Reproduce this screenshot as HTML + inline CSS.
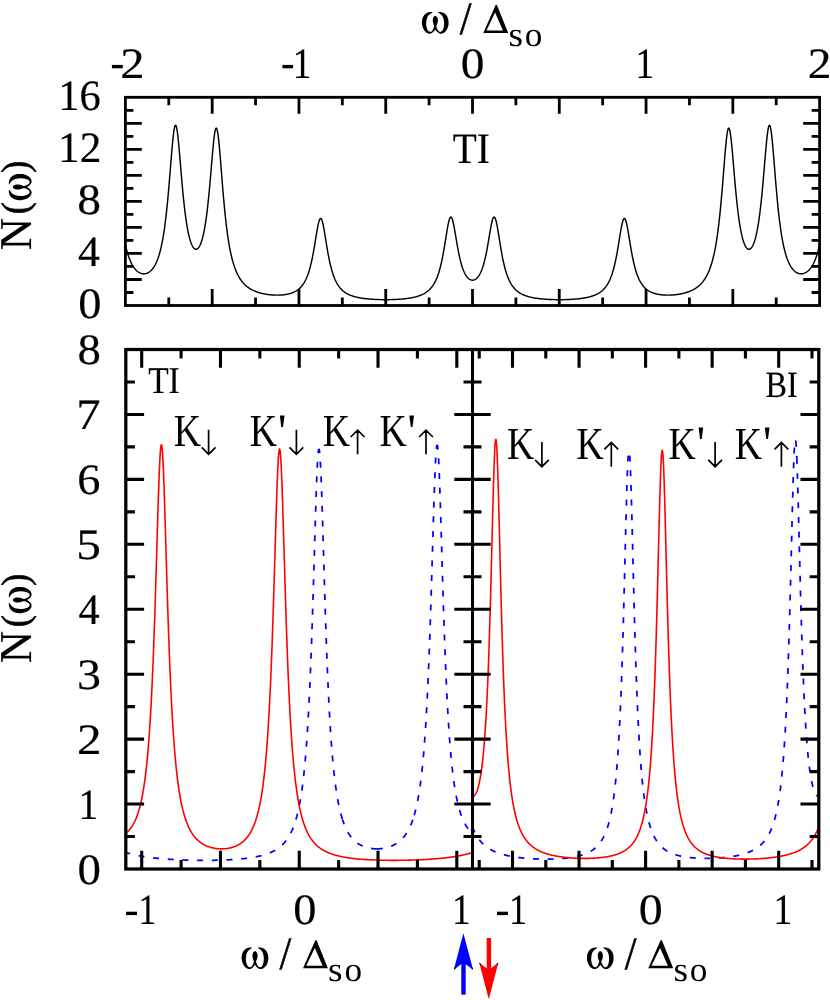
<!DOCTYPE html>
<html><head><meta charset="utf-8"><title>N(ω)</title>
<style>html,body{margin:0;padding:0;background:#fff}body{width:830px;height:1000px;overflow:hidden;font-family:"Liberation Serif",serif}svg{display:block}</style>
</head><body>
<svg width="830" height="1000" viewBox="0 0 830 1000" font-family="Liberation Serif" fill="#000">
<rect width="830" height="1000" fill="#fff"/>
<defs>
<clipPath id="c1"><rect x="125.4" y="97.3" width="694.2" height="208.2"/></clipPath>
<clipPath id="c2"><rect x="125.8" y="349.5" width="346.7" height="519.5"/></clipPath>
<clipPath id="c3"><rect x="472.5" y="349.5" width="346.29999999999995" height="519.5"/></clipPath>
</defs>
<path clip-path="url(#c1)" d="M121.93,224.60 L122.43,228.13 L122.93,231.43 L123.43,234.51 L123.93,237.39 L124.43,240.07 L124.94,242.57 L125.44,244.91 L125.94,247.09 L126.44,249.12 L126.94,251.03 L127.44,252.80 L127.94,254.46 L128.44,256.01 L128.95,257.45 L129.45,258.80 L129.95,260.07 L130.45,261.25 L130.95,262.35 L131.45,263.38 L131.95,264.34 L132.45,265.24 L132.95,266.08 L133.46,266.86 L133.96,267.59 L134.46,268.26 L134.96,268.89 L135.46,269.47 L135.96,270.01 L136.46,270.51 L136.96,270.97 L137.47,271.39 L137.97,271.77 L138.47,272.11 L138.97,272.43 L139.47,272.71 L139.97,272.95 L140.47,273.17 L140.97,273.35 L141.47,273.50 L141.98,273.63 L142.48,273.72 L142.98,273.78 L143.48,273.82 L143.98,273.82 L144.48,273.80 L144.98,273.75 L145.48,273.66 L145.99,273.55 L146.49,273.40 L146.99,273.23 L147.49,273.02 L147.99,272.78 L148.49,272.50 L148.99,272.19 L149.49,271.84 L149.99,271.46 L150.50,271.03 L151.00,270.57 L151.50,270.06 L152.00,269.50 L152.50,268.90 L153.00,268.25 L153.50,267.54 L154.00,266.78 L154.51,265.96 L155.01,265.07 L155.51,264.12 L156.01,263.10 L156.51,262.00 L157.01,260.81 L157.51,259.54 L158.01,258.18 L158.51,256.71 L159.02,255.13 L159.52,253.44 L160.02,251.63 L160.52,249.68 L161.02,247.58 L161.52,245.33 L162.02,242.91 L162.52,240.32 L163.03,237.53 L163.53,234.54 L164.03,231.33 L164.53,227.89 L165.03,224.21 L165.53,220.27 L166.03,216.06 L166.53,211.58 L167.03,206.82 L167.54,201.77 L168.04,196.46 L168.54,190.88 L169.04,185.07 L169.54,179.06 L170.04,172.90 L170.54,166.66 L171.04,160.42 L171.55,154.30 L172.05,148.41 L172.55,142.88 L173.05,137.87 L173.55,133.52 L174.05,129.97 L174.55,127.35 L175.05,125.74 L175.55,125.21 L176.06,125.78 L176.56,127.41 L177.06,130.04 L177.56,133.57 L178.06,137.87 L178.56,142.80 L179.06,148.20 L179.56,153.94 L180.07,159.88 L180.57,165.90 L181.07,171.90 L181.57,177.80 L182.07,183.54 L182.57,189.05 L183.07,194.32 L183.57,199.32 L184.07,204.03 L184.58,208.45 L185.08,212.58 L185.58,216.43 L186.08,219.99 L186.58,223.30 L187.08,226.34 L187.58,229.15 L188.08,231.72 L188.59,234.07 L189.09,236.22 L189.59,238.17 L190.09,239.94 L190.59,241.52 L191.09,242.94 L191.59,244.20 L192.09,245.31 L192.59,246.28 L193.10,247.10 L193.60,247.78 L194.10,248.34 L194.60,248.76 L195.10,249.06 L195.60,249.23 L196.10,249.28 L196.60,249.21 L197.11,249.01 L197.61,248.68 L198.11,248.22 L198.61,247.64 L199.11,246.92 L199.61,246.06 L200.11,245.05 L200.61,243.90 L201.11,242.58 L201.62,241.11 L202.12,239.45 L202.62,237.62 L203.12,235.59 L203.62,233.36 L204.12,230.91 L204.62,228.24 L205.12,225.33 L205.63,222.16 L206.13,218.73 L206.63,215.03 L207.13,211.04 L207.63,206.77 L208.13,202.20 L208.63,197.35 L209.13,192.23 L209.63,186.84 L210.14,181.24 L210.64,175.45 L211.14,169.54 L211.64,163.59 L212.14,157.69 L212.64,151.96 L213.14,146.53 L213.64,141.54 L214.14,137.14 L214.65,133.47 L215.15,130.67 L215.65,128.84 L216.15,128.07 L216.65,128.39 L217.15,129.80 L217.65,132.25 L218.15,135.65 L218.66,139.88 L219.16,144.82 L219.66,150.31 L220.16,156.21 L220.66,162.38 L221.16,168.69 L221.66,175.03 L222.16,181.32 L222.66,187.47 L223.17,193.44 L223.67,199.19 L224.17,204.68 L224.67,209.90 L225.17,214.84 L225.67,219.51 L226.17,223.90 L226.67,228.02 L227.18,231.88 L227.68,235.51 L228.18,238.89 L228.68,242.06 L229.18,245.03 L229.68,247.80 L230.18,250.40 L230.68,252.82 L231.18,255.09 L231.69,257.22 L232.19,259.21 L232.69,261.08 L233.19,262.84 L233.69,264.48 L234.19,266.03 L234.69,267.49 L235.19,268.86 L235.70,270.15 L236.20,271.37 L236.70,272.52 L237.20,273.60 L237.70,274.63 L238.20,275.60 L238.70,276.51 L239.20,277.38 L239.70,278.21 L240.21,278.99 L240.71,279.73 L241.21,280.44 L241.71,281.11 L242.21,281.75 L242.71,282.36 L243.21,282.93 L243.71,283.49 L244.22,284.01 L244.72,284.52 L245.22,285.00 L245.72,285.45 L246.22,285.89 L246.72,286.31 L247.22,286.71 L247.72,287.10 L248.22,287.46 L248.73,287.82 L249.23,288.15 L249.73,288.48 L250.23,288.79 L250.73,289.09 L251.23,289.37 L251.73,289.65 L252.23,289.91 L252.74,290.16 L253.24,290.41 L253.74,290.64 L254.24,290.87 L254.74,291.08 L255.24,291.29 L255.74,291.49 L256.24,291.68 L256.74,291.87 L257.25,292.04 L257.75,292.21 L258.25,292.38 L258.75,292.54 L259.25,292.69 L259.75,292.83 L260.25,292.97 L260.75,293.11 L261.26,293.24 L261.76,293.36 L262.26,293.48 L262.76,293.59 L263.26,293.70 L263.76,293.81 L264.26,293.91 L264.76,294.00 L265.26,294.09 L265.77,294.18 L266.27,294.26 L266.77,294.34 L267.27,294.42 L267.77,294.49 L268.27,294.55 L268.77,294.62 L269.27,294.68 L269.78,294.73 L270.28,294.78 L270.78,294.83 L271.28,294.88 L271.78,294.92 L272.28,294.96 L272.78,294.99 L273.28,295.02 L273.78,295.05 L274.29,295.07 L274.79,295.09 L275.29,295.10 L275.79,295.12 L276.29,295.12 L276.79,295.13 L277.29,295.13 L277.79,295.13 L278.30,295.12 L278.80,295.11 L279.30,295.09 L279.80,295.07 L280.30,295.05 L280.80,295.02 L281.30,294.99 L281.80,294.95 L282.30,294.91 L282.81,294.86 L283.31,294.81 L283.81,294.76 L284.31,294.70 L284.81,294.63 L285.31,294.55 L285.81,294.48 L286.31,294.39 L286.82,294.30 L287.32,294.20 L287.82,294.10 L288.32,293.98 L288.82,293.86 L289.32,293.73 L289.82,293.60 L290.32,293.45 L290.82,293.30 L291.33,293.13 L291.83,292.96 L292.33,292.77 L292.83,292.57 L293.33,292.36 L293.83,292.14 L294.33,291.91 L294.83,291.65 L295.34,291.39 L295.84,291.11 L296.34,290.81 L296.84,290.49 L297.34,290.15 L297.84,289.79 L298.34,289.41 L298.84,289.00 L299.34,288.57 L299.85,288.11 L300.35,287.62 L300.85,287.10 L301.35,286.54 L301.85,285.95 L302.35,285.31 L302.85,284.64 L303.35,283.92 L303.86,283.15 L304.36,282.32 L304.86,281.44 L305.36,280.50 L305.86,279.48 L306.36,278.40 L306.86,277.24 L307.36,276.00 L307.86,274.66 L308.37,273.23 L308.87,271.70 L309.37,270.06 L309.87,268.30 L310.37,266.42 L310.87,264.41 L311.37,262.27 L311.87,259.99 L312.38,257.57 L312.88,255.02 L313.38,252.34 L313.88,249.53 L314.38,246.61 L314.88,243.60 L315.38,240.53 L315.88,237.44 L316.38,234.38 L316.89,231.40 L317.39,228.56 L317.89,225.93 L318.39,223.60 L318.89,221.63 L319.39,220.08 L319.89,219.02 L320.39,218.49 L320.89,218.50 L321.40,219.07 L321.90,220.16 L322.40,221.73 L322.90,223.73 L323.40,226.10 L323.90,228.75 L324.40,231.62 L324.90,234.63 L325.41,237.72 L325.91,240.84 L326.41,243.94 L326.91,246.97 L327.41,249.92 L327.91,252.76 L328.41,255.48 L328.91,258.06 L329.41,260.50 L329.92,262.81 L330.42,264.98 L330.92,267.02 L331.42,268.93 L331.92,270.72 L332.42,272.39 L332.92,273.95 L333.42,275.41 L333.93,276.78 L334.43,278.05 L334.93,279.24 L335.43,280.36 L335.93,281.40 L336.43,282.38 L336.93,283.29 L337.43,284.15 L337.93,284.95 L338.44,285.71 L338.94,286.41 L339.44,287.08 L339.94,287.71 L340.44,288.30 L340.94,288.85 L341.44,289.38 L341.94,289.87 L342.45,290.34 L342.95,290.78 L343.45,291.20 L343.95,291.59 L344.45,291.97 L344.95,292.32 L345.45,292.66 L345.95,292.98 L346.45,293.28 L346.96,293.57 L347.46,293.85 L347.96,294.11 L348.46,294.36 L348.96,294.60 L349.46,294.82 L349.96,295.04 L350.46,295.25 L350.97,295.44 L351.47,295.63 L351.97,295.81 L352.47,295.98 L352.97,296.15 L353.47,296.31 L353.97,296.46 L354.47,296.60 L354.97,296.74 L355.48,296.87 L355.98,297.00 L356.48,297.12 L356.98,297.24 L357.48,297.35 L357.98,297.46 L358.48,297.57 L358.98,297.67 L359.49,297.76 L359.99,297.85 L360.49,297.94 L360.99,298.03 L361.49,298.11 L361.99,298.19 L362.49,298.26 L362.99,298.34 L363.49,298.41 L364.00,298.47 L364.50,298.54 L365.00,298.60 L365.50,298.66 L366.00,298.72 L366.50,298.77 L367.00,298.83 L367.50,298.88 L368.01,298.92 L368.51,298.97 L369.01,299.02 L369.51,299.06 L370.01,299.10 L370.51,299.14 L371.01,299.18 L371.51,299.21 L372.01,299.25 L372.52,299.28 L373.02,299.31 L373.52,299.34 L374.02,299.37 L374.52,299.40 L375.02,299.43 L375.52,299.45 L376.02,299.47 L376.53,299.49 L377.03,299.51 L377.53,299.53 L378.03,299.55 L378.53,299.57 L379.03,299.58 L379.53,299.60 L380.03,299.61 L380.53,299.62 L381.04,299.63 L381.54,299.64 L382.04,299.65 L382.54,299.66 L383.04,299.67 L383.54,299.67 L384.04,299.67 L384.54,299.68 L385.05,299.68 L385.55,299.68 L386.05,299.68 L386.55,299.68 L387.05,299.68 L387.55,299.67 L388.05,299.67 L388.55,299.66 L389.05,299.65 L389.56,299.65 L390.06,299.64 L390.56,299.63 L391.06,299.61 L391.56,299.60 L392.06,299.59 L392.56,299.57 L393.06,299.55 L393.57,299.54 L394.07,299.52 L394.57,299.50 L395.07,299.48 L395.57,299.45 L396.07,299.43 L396.57,299.40 L397.07,299.38 L397.57,299.35 L398.08,299.32 L398.58,299.29 L399.08,299.25 L399.58,299.22 L400.08,299.18 L400.58,299.14 L401.08,299.10 L401.58,299.06 L402.09,299.02 L402.59,298.97 L403.09,298.93 L403.59,298.88 L404.09,298.83 L404.59,298.77 L405.09,298.72 L405.59,298.66 L406.09,298.60 L406.60,298.54 L407.10,298.47 L407.60,298.40 L408.10,298.33 L408.60,298.26 L409.10,298.19 L409.60,298.11 L410.10,298.02 L410.61,297.94 L411.11,297.85 L411.61,297.76 L412.11,297.66 L412.61,297.56 L413.11,297.45 L413.61,297.35 L414.11,297.23 L414.61,297.11 L415.12,296.99 L415.62,296.86 L416.12,296.73 L416.62,296.59 L417.12,296.44 L417.62,296.29 L418.12,296.14 L418.62,295.97 L419.13,295.80 L419.63,295.62 L420.13,295.43 L420.63,295.23 L421.13,295.03 L421.63,294.81 L422.13,294.58 L422.63,294.35 L423.13,294.10 L423.64,293.84 L424.14,293.57 L424.64,293.28 L425.14,292.98 L425.64,292.66 L426.14,292.33 L426.64,291.97 L427.14,291.60 L427.64,291.21 L428.15,290.80 L428.65,290.37 L429.15,289.91 L429.65,289.42 L430.15,288.90 L430.65,288.36 L431.15,287.78 L431.65,287.17 L432.16,286.52 L432.66,285.82 L433.16,285.09 L433.66,284.31 L434.16,283.47 L434.66,282.58 L435.16,281.63 L435.66,280.62 L436.16,279.54 L436.67,278.39 L437.17,277.15 L437.67,275.83 L438.17,274.42 L438.67,272.91 L439.17,271.29 L439.67,269.57 L440.17,267.72 L440.68,265.75 L441.18,263.65 L441.68,261.41 L442.18,259.04 L442.68,256.52 L443.18,253.87 L443.68,251.09 L444.18,248.18 L444.68,245.18 L445.19,242.08 L445.69,238.94 L446.19,235.79 L446.69,232.68 L447.19,229.66 L447.69,226.80 L448.19,224.18 L448.69,221.87 L449.20,219.94 L449.70,218.45 L450.20,217.46 L450.70,217.00 L451.20,217.09 L451.70,217.72 L452.20,218.86 L452.70,220.47 L453.20,222.49 L453.71,224.85 L454.21,227.48 L454.71,230.29 L455.21,233.23 L455.71,236.22 L456.21,239.23 L456.71,242.20 L457.21,245.09 L457.72,247.89 L458.22,250.57 L458.72,253.11 L459.22,255.52 L459.72,257.79 L460.22,259.91 L460.72,261.89 L461.22,263.73 L461.72,265.44 L462.23,267.03 L462.73,268.49 L463.23,269.84 L463.73,271.08 L464.23,272.22 L464.73,273.26 L465.23,274.21 L465.73,275.07 L466.24,275.86 L466.74,276.57 L467.24,277.20 L467.74,277.77 L468.24,278.27 L468.74,278.71 L469.24,279.09 L469.74,279.41 L470.24,279.67 L470.75,279.88 L471.25,280.03 L471.75,280.14 L472.25,280.19 L472.75,280.19 L473.25,280.14 L473.75,280.03 L474.25,279.88 L474.76,279.67 L475.26,279.41 L475.76,279.09 L476.26,278.71 L476.76,278.27 L477.26,277.77 L477.76,277.20 L478.26,276.57 L478.76,275.86 L479.27,275.07 L479.77,274.21 L480.27,273.26 L480.77,272.22 L481.27,271.08 L481.77,269.84 L482.27,268.49 L482.77,267.03 L483.28,265.44 L483.78,263.73 L484.28,261.89 L484.78,259.91 L485.28,257.79 L485.78,255.52 L486.28,253.11 L486.78,250.57 L487.28,247.89 L487.79,245.09 L488.29,242.20 L488.79,239.23 L489.29,236.22 L489.79,233.23 L490.29,230.29 L490.79,227.48 L491.29,224.85 L491.80,222.49 L492.30,220.47 L492.80,218.86 L493.30,217.72 L493.80,217.09 L494.30,217.00 L494.80,217.46 L495.30,218.45 L495.80,219.94 L496.31,221.87 L496.81,224.18 L497.31,226.80 L497.81,229.66 L498.31,232.68 L498.81,235.79 L499.31,238.94 L499.81,242.08 L500.32,245.18 L500.82,248.18 L501.32,251.09 L501.82,253.87 L502.32,256.52 L502.82,259.04 L503.32,261.41 L503.82,263.65 L504.32,265.75 L504.83,267.72 L505.33,269.57 L505.83,271.29 L506.33,272.91 L506.83,274.42 L507.33,275.83 L507.83,277.15 L508.33,278.39 L508.84,279.54 L509.34,280.62 L509.84,281.63 L510.34,282.58 L510.84,283.47 L511.34,284.31 L511.84,285.09 L512.34,285.82 L512.84,286.52 L513.35,287.17 L513.85,287.78 L514.35,288.36 L514.85,288.90 L515.35,289.42 L515.85,289.91 L516.35,290.37 L516.85,290.80 L517.36,291.21 L517.86,291.60 L518.36,291.97 L518.86,292.33 L519.36,292.66 L519.86,292.98 L520.36,293.28 L520.86,293.57 L521.36,293.84 L521.87,294.10 L522.37,294.35 L522.87,294.58 L523.37,294.81 L523.87,295.03 L524.37,295.23 L524.87,295.43 L525.37,295.62 L525.87,295.80 L526.38,295.97 L526.88,296.14 L527.38,296.29 L527.88,296.44 L528.38,296.59 L528.88,296.73 L529.38,296.86 L529.88,296.99 L530.39,297.11 L530.89,297.23 L531.39,297.35 L531.89,297.45 L532.39,297.56 L532.89,297.66 L533.39,297.76 L533.89,297.85 L534.39,297.94 L534.90,298.02 L535.40,298.11 L535.90,298.19 L536.40,298.26 L536.90,298.33 L537.40,298.40 L537.90,298.47 L538.40,298.54 L538.91,298.60 L539.41,298.66 L539.91,298.72 L540.41,298.77 L540.91,298.83 L541.41,298.88 L541.91,298.93 L542.41,298.97 L542.91,299.02 L543.42,299.06 L543.92,299.10 L544.42,299.14 L544.92,299.18 L545.42,299.22 L545.92,299.25 L546.42,299.29 L546.92,299.32 L547.43,299.35 L547.93,299.38 L548.43,299.40 L548.93,299.43 L549.43,299.45 L549.93,299.48 L550.43,299.50 L550.93,299.52 L551.43,299.54 L551.94,299.55 L552.44,299.57 L552.94,299.59 L553.44,299.60 L553.94,299.61 L554.44,299.63 L554.94,299.64 L555.44,299.65 L555.95,299.65 L556.45,299.66 L556.95,299.67 L557.45,299.67 L557.95,299.68 L558.45,299.68 L558.95,299.68 L559.45,299.68 L559.95,299.68 L560.46,299.68 L560.96,299.67 L561.46,299.67 L561.96,299.67 L562.46,299.66 L562.96,299.65 L563.46,299.64 L563.96,299.63 L564.47,299.62 L564.97,299.61 L565.47,299.60 L565.97,299.58 L566.47,299.57 L566.97,299.55 L567.47,299.53 L567.97,299.51 L568.47,299.49 L568.98,299.47 L569.48,299.45 L569.98,299.43 L570.48,299.40 L570.98,299.37 L571.48,299.34 L571.98,299.31 L572.48,299.28 L572.99,299.25 L573.49,299.21 L573.99,299.18 L574.49,299.14 L574.99,299.10 L575.49,299.06 L575.99,299.02 L576.49,298.97 L576.99,298.92 L577.50,298.88 L578.00,298.83 L578.50,298.77 L579.00,298.72 L579.50,298.66 L580.00,298.60 L580.50,298.54 L581.00,298.47 L581.51,298.41 L582.01,298.34 L582.51,298.26 L583.01,298.19 L583.51,298.11 L584.01,298.03 L584.51,297.94 L585.01,297.85 L585.51,297.76 L586.02,297.67 L586.52,297.57 L587.02,297.46 L587.52,297.35 L588.02,297.24 L588.52,297.12 L589.02,297.00 L589.52,296.87 L590.03,296.74 L590.53,296.60 L591.03,296.46 L591.53,296.31 L592.03,296.15 L592.53,295.98 L593.03,295.81 L593.53,295.63 L594.03,295.44 L594.54,295.25 L595.04,295.04 L595.54,294.82 L596.04,294.60 L596.54,294.36 L597.04,294.11 L597.54,293.85 L598.04,293.57 L598.55,293.28 L599.05,292.98 L599.55,292.66 L600.05,292.32 L600.55,291.97 L601.05,291.59 L601.55,291.20 L602.05,290.78 L602.55,290.34 L603.06,289.87 L603.56,289.38 L604.06,288.85 L604.56,288.30 L605.06,287.71 L605.56,287.08 L606.06,286.41 L606.56,285.71 L607.07,284.95 L607.57,284.15 L608.07,283.29 L608.57,282.38 L609.07,281.40 L609.57,280.36 L610.07,279.24 L610.57,278.05 L611.07,276.78 L611.58,275.41 L612.08,273.95 L612.58,272.39 L613.08,270.72 L613.58,268.93 L614.08,267.02 L614.58,264.98 L615.08,262.81 L615.59,260.50 L616.09,258.06 L616.59,255.48 L617.09,252.76 L617.59,249.92 L618.09,246.97 L618.59,243.94 L619.09,240.84 L619.59,237.72 L620.10,234.63 L620.60,231.62 L621.10,228.75 L621.60,226.10 L622.10,223.73 L622.60,221.73 L623.10,220.16 L623.60,219.07 L624.11,218.50 L624.61,218.49 L625.11,219.02 L625.61,220.08 L626.11,221.63 L626.61,223.60 L627.11,225.93 L627.61,228.56 L628.11,231.40 L628.62,234.38 L629.12,237.44 L629.62,240.53 L630.12,243.60 L630.62,246.61 L631.12,249.53 L631.62,252.34 L632.12,255.02 L632.62,257.57 L633.13,259.99 L633.63,262.27 L634.13,264.41 L634.63,266.42 L635.13,268.30 L635.63,270.06 L636.13,271.70 L636.63,273.23 L637.14,274.66 L637.64,276.00 L638.14,277.24 L638.64,278.40 L639.14,279.48 L639.64,280.50 L640.14,281.44 L640.64,282.32 L641.14,283.15 L641.65,283.92 L642.15,284.64 L642.65,285.31 L643.15,285.95 L643.65,286.54 L644.15,287.10 L644.65,287.62 L645.15,288.11 L645.66,288.57 L646.16,289.00 L646.66,289.41 L647.16,289.79 L647.66,290.15 L648.16,290.49 L648.66,290.81 L649.16,291.11 L649.66,291.39 L650.17,291.65 L650.67,291.91 L651.17,292.14 L651.67,292.36 L652.17,292.57 L652.67,292.77 L653.17,292.96 L653.67,293.13 L654.18,293.30 L654.68,293.45 L655.18,293.60 L655.68,293.73 L656.18,293.86 L656.68,293.98 L657.18,294.10 L657.68,294.20 L658.18,294.30 L658.69,294.39 L659.19,294.48 L659.69,294.55 L660.19,294.63 L660.69,294.70 L661.19,294.76 L661.69,294.81 L662.19,294.86 L662.70,294.91 L663.20,294.95 L663.70,294.99 L664.20,295.02 L664.70,295.05 L665.20,295.07 L665.70,295.09 L666.20,295.11 L666.70,295.12 L667.21,295.13 L667.71,295.13 L668.21,295.13 L668.71,295.12 L669.21,295.12 L669.71,295.10 L670.21,295.09 L670.71,295.07 L671.22,295.05 L671.72,295.02 L672.22,294.99 L672.72,294.96 L673.22,294.92 L673.72,294.88 L674.22,294.83 L674.72,294.78 L675.22,294.73 L675.73,294.68 L676.23,294.62 L676.73,294.55 L677.23,294.49 L677.73,294.42 L678.23,294.34 L678.73,294.26 L679.23,294.18 L679.74,294.09 L680.24,294.00 L680.74,293.91 L681.24,293.81 L681.74,293.70 L682.24,293.59 L682.74,293.48 L683.24,293.36 L683.74,293.24 L684.25,293.11 L684.75,292.97 L685.25,292.83 L685.75,292.69 L686.25,292.54 L686.75,292.38 L687.25,292.21 L687.75,292.04 L688.26,291.87 L688.76,291.68 L689.26,291.49 L689.76,291.29 L690.26,291.08 L690.76,290.87 L691.26,290.64 L691.76,290.41 L692.26,290.16 L692.77,289.91 L693.27,289.65 L693.77,289.37 L694.27,289.09 L694.77,288.79 L695.27,288.48 L695.77,288.15 L696.27,287.82 L696.78,287.46 L697.28,287.10 L697.78,286.71 L698.28,286.31 L698.78,285.89 L699.28,285.45 L699.78,285.00 L700.28,284.52 L700.78,284.01 L701.29,283.49 L701.79,282.93 L702.29,282.36 L702.79,281.75 L703.29,281.11 L703.79,280.44 L704.29,279.73 L704.79,278.99 L705.30,278.21 L705.80,277.38 L706.30,276.51 L706.80,275.60 L707.30,274.63 L707.80,273.60 L708.30,272.52 L708.80,271.37 L709.30,270.15 L709.81,268.86 L710.31,267.49 L710.81,266.03 L711.31,264.48 L711.81,262.84 L712.31,261.08 L712.81,259.21 L713.31,257.22 L713.82,255.09 L714.32,252.82 L714.82,250.40 L715.32,247.80 L715.82,245.03 L716.32,242.06 L716.82,238.89 L717.32,235.51 L717.82,231.88 L718.33,228.02 L718.83,223.90 L719.33,219.51 L719.83,214.84 L720.33,209.90 L720.83,204.68 L721.33,199.19 L721.83,193.44 L722.34,187.47 L722.84,181.32 L723.34,175.03 L723.84,168.69 L724.34,162.38 L724.84,156.21 L725.34,150.31 L725.84,144.82 L726.34,139.88 L726.85,135.65 L727.35,132.25 L727.85,129.80 L728.35,128.39 L728.85,128.07 L729.35,128.84 L729.85,130.67 L730.35,133.47 L730.86,137.14 L731.36,141.54 L731.86,146.53 L732.36,151.96 L732.86,157.69 L733.36,163.59 L733.86,169.54 L734.36,175.45 L734.86,181.24 L735.37,186.84 L735.87,192.23 L736.37,197.35 L736.87,202.20 L737.37,206.77 L737.87,211.04 L738.37,215.03 L738.87,218.73 L739.37,222.16 L739.88,225.33 L740.38,228.24 L740.88,230.91 L741.38,233.36 L741.88,235.59 L742.38,237.62 L742.88,239.45 L743.38,241.11 L743.89,242.58 L744.39,243.90 L744.89,245.05 L745.39,246.06 L745.89,246.92 L746.39,247.64 L746.89,248.22 L747.39,248.68 L747.89,249.01 L748.40,249.21 L748.90,249.28 L749.40,249.23 L749.90,249.06 L750.40,248.76 L750.90,248.34 L751.40,247.78 L751.90,247.10 L752.41,246.28 L752.91,245.31 L753.41,244.20 L753.91,242.94 L754.41,241.52 L754.91,239.94 L755.41,238.17 L755.91,236.22 L756.41,234.07 L756.92,231.72 L757.42,229.15 L757.92,226.34 L758.42,223.30 L758.92,219.99 L759.42,216.43 L759.92,212.58 L760.42,208.45 L760.93,204.03 L761.43,199.32 L761.93,194.32 L762.43,189.05 L762.93,183.54 L763.43,177.80 L763.93,171.90 L764.43,165.90 L764.93,159.88 L765.44,153.94 L765.94,148.20 L766.44,142.80 L766.94,137.87 L767.44,133.57 L767.94,130.04 L768.44,127.41 L768.94,125.78 L769.45,125.21 L769.95,125.74 L770.45,127.35 L770.95,129.97 L771.45,133.52 L771.95,137.87 L772.45,142.88 L772.95,148.41 L773.45,154.30 L773.96,160.42 L774.46,166.66 L774.96,172.90 L775.46,179.06 L775.96,185.07 L776.46,190.88 L776.96,196.46 L777.46,201.77 L777.97,206.82 L778.47,211.58 L778.97,216.06 L779.47,220.27 L779.97,224.21 L780.47,227.89 L780.97,231.33 L781.47,234.54 L781.97,237.53 L782.48,240.32 L782.98,242.91 L783.48,245.33 L783.98,247.58 L784.48,249.68 L784.98,251.63 L785.48,253.44 L785.98,255.13 L786.49,256.71 L786.99,258.18 L787.49,259.54 L787.99,260.81 L788.49,262.00 L788.99,263.10 L789.49,264.12 L789.99,265.07 L790.49,265.96 L791.00,266.78 L791.50,267.54 L792.00,268.25 L792.50,268.90 L793.00,269.50 L793.50,270.06 L794.00,270.57 L794.50,271.03 L795.01,271.46 L795.51,271.84 L796.01,272.19 L796.51,272.50 L797.01,272.78 L797.51,273.02 L798.01,273.23 L798.51,273.40 L799.01,273.55 L799.52,273.66 L800.02,273.75 L800.52,273.80 L801.02,273.82 L801.52,273.82 L802.02,273.78 L802.52,273.72 L803.02,273.63 L803.53,273.50 L804.03,273.35 L804.53,273.17 L805.03,272.95 L805.53,272.71 L806.03,272.43 L806.53,272.11 L807.03,271.77 L807.53,271.39 L808.04,270.97 L808.54,270.51 L809.04,270.01 L809.54,269.47 L810.04,268.89 L810.54,268.26 L811.04,267.59 L811.54,266.86 L812.05,266.08 L812.55,265.24 L813.05,264.34 L813.55,263.38 L814.05,262.35 L814.55,261.25 L815.05,260.07 L815.55,258.80 L816.05,257.45 L816.56,256.01 L817.06,254.46 L817.56,252.80 L818.06,251.03 L818.56,249.12 L819.06,247.09 L819.56,244.91 L820.06,242.57 L820.57,240.07 L821.07,237.39 L821.57,234.51 L822.07,231.43 L822.57,228.13 L823.07,224.60" fill="none" stroke="#000" stroke-width="1.45" stroke-linejoin="round"/>
<path clip-path="url(#c2)" d="M318.95,448.95 L318.66,449.50 L318.37,451.19 L318.07,453.99 L317.78,457.86 L317.48,462.73 L317.19,468.54 L316.90,475.20 L316.60,482.61 L316.31,490.68 L316.01,499.31 L315.72,508.39 L315.43,517.83 L315.13,527.54 L314.84,537.44 L314.54,547.44 L314.25,557.47 L313.95,567.47 L313.66,577.38 L313.37,587.17 L313.07,596.78 L312.78,606.19 L312.48,615.37 L312.19,624.30 L311.90,632.97 L311.60,641.36 L311.31,649.46 L311.01,657.28 L310.72,664.81 L310.43,672.05 L310.13,679.01 L309.84,685.69 L309.54,692.10 L309.25,698.25 L308.96,704.14 L308.66,709.78 L308.37,715.18 L308.07,720.35 L307.78,725.30 L307.48,730.03 L307.19,734.56 L306.90,738.90 L306.60,743.05 L306.31,747.02 L306.01,750.82 L305.72,754.46 L305.43,757.95 L305.13,761.29 L304.84,764.49 L304.54,767.55 L304.25,770.49 L303.96,773.31 L303.66,776.01 L303.37,778.60 L303.07,781.09 L302.78,783.47 L302.49,785.77 L302.19,787.97 L301.90,790.08 L301.60,792.12 L301.31,794.07 L301.01,795.96 L300.72,797.77 L300.43,799.51 L300.13,801.19 L299.84,802.80 L299.54,804.36 L299.25,805.86 L298.96,807.31 L298.66,808.70 L298.37,810.05 L298.07,811.35 L297.78,812.61 L297.49,813.82 L297.19,814.99 L296.90,816.12 L296.60,817.22 L296.31,818.27 L296.01,819.30 L295.72,820.29 L295.43,821.25 L295.13,822.17 L294.84,823.07 L294.54,823.94 L294.25,824.79 L293.96,825.60 L293.66,826.40 L293.37,827.16 L293.07,827.91 L292.78,828.63 L292.49,829.34 L292.19,830.02 L291.90,830.68 L291.60,831.32 L291.31,831.95 L291.02,832.55 L290.72,833.14 L290.43,833.72 L290.13,834.28 L289.84,834.82 L289.54,835.35 L289.25,835.86 L288.96,836.36 L288.66,836.85 L288.37,837.32 L288.07,837.78 L287.78,838.23 L287.49,838.67 L287.19,839.10 L286.90,839.52 L286.60,839.92 L286.31,840.32 L286.02,840.70 L285.72,841.08 L285.43,841.45 L285.13,841.81 L284.84,842.16 L284.55,842.50 L284.25,842.83 L283.96,843.16 L283.66,843.48 L283.37,843.79 L283.07,844.09 L282.78,844.39 L282.49,844.68 L282.19,844.96 L281.90,845.24 L281.60,845.51 L281.31,845.78 L281.02,846.04 L280.72,846.29 L280.43,846.54 L280.13,846.78 L279.84,847.02 L279.55,847.25 L279.25,847.48 L278.96,847.70 L278.66,847.92 L278.37,848.14 L278.08,848.35 L277.78,848.55 L277.49,848.75 L277.19,848.95 L276.90,849.14 L276.60,849.33 L276.31,849.52 L276.02,849.70 L275.72,849.88 L275.43,850.05 L275.13,850.23 L274.84,850.39 L274.55,850.56 L274.25,850.72 L273.96,850.88 L273.66,851.04 L273.37,851.19 L273.08,851.34 L272.78,851.49 L272.49,851.63 L272.19,851.77 L271.90,851.91 L271.61,852.05 L271.31,852.19 L271.02,852.32 L270.72,852.45 L270.43,852.58 L270.13,852.70 L269.84,852.82 L269.55,852.94 L269.25,853.06 L268.96,853.18 L268.66,853.29 L268.37,853.41 L268.08,853.52 L267.78,853.63 L267.49,853.73 L267.19,853.84 L266.90,853.94 L266.61,854.05 L266.31,854.15 L266.02,854.24 L265.72,854.34 L265.43,854.44 L265.14,854.53 L264.84,854.62 L264.55,854.71 L264.25,854.80 L263.96,854.89 L263.66,854.98 L263.37,855.06 L263.08,855.15 L262.78,855.23 L262.49,855.31 L262.19,855.39 L261.90,855.47 L261.61,855.54 L261.31,855.62 L261.02,855.70 L260.72,855.77 L260.43,855.84 L260.14,855.91 L259.84,855.98 L259.55,856.05 L259.25,856.12 L258.96,856.19 L258.67,856.26 L258.37,856.32 L258.08,856.39 L257.78,856.45 L257.49,856.51 L257.19,856.57 L256.90,856.63 L256.61,856.69 L256.31,856.75 L256.02,856.81 L255.72,856.87 L255.43,856.92 L255.14,856.98 L254.84,857.03 L254.55,857.09 L254.25,857.14 L253.96,857.19 L253.67,857.25 L253.37,857.30 L253.08,857.35 L252.78,857.40 L252.49,857.45 L252.20,857.49 L251.90,857.54 L251.61,857.59 L251.31,857.63 L251.02,857.68 L250.72,857.72 L250.43,857.77 L250.14,857.81 L249.84,857.85 L249.55,857.90 L249.25,857.94 L248.96,857.98 L248.67,858.02 L248.37,858.06 L248.08,858.10 L247.78,858.14 L247.49,858.18 L247.20,858.21 L246.90,858.25 L246.61,858.29 L246.31,858.32 L246.02,858.36 L245.73,858.40 L245.43,858.43 L245.14,858.46 L244.84,858.50 L244.55,858.53 L244.25,858.56 L243.96,858.60 L243.67,858.63 L243.37,858.66 L243.08,858.69 L242.78,858.72 L242.49,858.75 L242.20,858.78 L241.90,858.81 L241.61,858.84 L241.31,858.87 L241.02,858.90 L240.73,858.93 L240.43,858.95 L240.14,858.98 L239.84,859.01 L239.55,859.03 L239.25,859.06 L238.96,859.08 L238.67,859.11 L238.37,859.13 L238.08,859.16 L237.78,859.18 L237.49,859.21 L237.20,859.23 L236.90,859.25 L236.61,859.28 L236.31,859.30 L236.02,859.32 L235.73,859.34 L235.43,859.36 L235.14,859.39 L234.84,859.41 L234.55,859.43 L234.26,859.45 L233.96,859.47 L233.67,859.49 L233.37,859.51 L233.08,859.53 L232.78,859.54 L232.49,859.56 L232.20,859.58 L231.90,859.60 L231.61,859.62 L231.31,859.63 L231.02,859.65 L230.73,859.67 L230.43,859.69 L230.14,859.70 L229.84,859.72 L229.55,859.73 L229.26,859.75 L228.96,859.76 L228.67,859.78 L228.37,859.79 L228.08,859.81 L227.79,859.82 L227.49,859.84 L227.20,859.85 L226.90,859.87 L226.61,859.88 L226.31,859.89 L226.02,859.91 L225.73,859.92 L225.43,859.93 L225.14,859.94 L224.84,859.96 L224.55,859.97 L224.26,859.98 L223.96,859.99 L223.67,860.00 L223.37,860.01 L223.08,860.02 L222.79,860.03 L222.49,860.04 L222.20,860.06 L221.90,860.07 L221.61,860.07 L221.32,860.08 L221.02,860.09 L220.73,860.10 L220.43,860.11 L220.14,860.12 L219.84,860.13 L219.55,860.14 L219.26,860.15 L218.96,860.15 L218.67,860.16 L218.37,860.17 L218.08,860.18 L217.79,860.19 L217.49,860.19 L217.20,860.20 L216.90,860.21 L216.61,860.21 L216.32,860.22 L216.02,860.23 L215.73,860.23 L215.43,860.24 L215.14,860.24 L214.85,860.25 L214.55,860.25 L214.26,860.26 L213.96,860.26 L213.67,860.27 L213.37,860.27 L213.08,860.28 L212.79,860.28 L212.49,860.29 L212.20,860.29 L211.90,860.30 L211.61,860.30 L211.32,860.30 L211.02,860.31 L210.73,860.31 L210.43,860.31 L210.14,860.32 L209.85,860.32 L209.55,860.32 L209.26,860.32 L208.96,860.33 L208.67,860.33 L208.38,860.33 L208.08,860.33 L207.79,860.33 L207.49,860.34 L207.20,860.34 L206.90,860.34 L206.61,860.34 L206.32,860.34 L206.02,860.34 L205.73,860.34 L205.43,860.34 L205.14,860.34 L204.85,860.34 L204.55,860.34 L204.26,860.34 L203.96,860.34 L203.67,860.34 L203.38,860.34 L203.08,860.34 L202.79,860.34 L202.49,860.34 L202.20,860.34 L201.91,860.34 L201.61,860.34 L201.32,860.33 L201.02,860.33 L200.73,860.33 L200.43,860.33 L200.14,860.33 L199.85,860.32 L199.55,860.32 L199.26,860.32 L198.96,860.32 L198.67,860.31 L198.38,860.31 L198.08,860.31 L197.79,860.30 L197.49,860.30 L197.20,860.30 L196.91,860.29 L196.61,860.29 L196.32,860.29 L196.02,860.28 L195.73,860.28 L195.44,860.27 L195.14,860.27 L194.85,860.26 L194.55,860.26 L194.26,860.25 L193.96,860.25 L193.67,860.24 L193.38,860.24 L193.08,860.23 L192.79,860.23 L192.49,860.22 L192.20,860.21 L191.91,860.21 L191.61,860.20 L191.32,860.20 L191.02,860.19 L190.73,860.18 L190.44,860.18 L190.14,860.17 L189.85,860.16 L189.55,860.15 L189.26,860.15 L188.96,860.14 L188.67,860.13 L188.38,860.12 L188.08,860.11 L187.79,860.11 L187.49,860.10 L187.20,860.09 L186.91,860.08 L186.61,860.07 L186.32,860.06 L186.02,860.05 L185.73,860.04 L185.44,860.03 L185.14,860.03 L184.85,860.02 L184.55,860.01 L184.26,860.00 L183.97,859.99 L183.67,859.97 L183.38,859.96 L183.08,859.95 L182.79,859.94 L182.49,859.93 L182.20,859.92 L181.91,859.91 L181.61,859.90 L181.32,859.89 L181.02,859.87 L180.73,859.86 L180.44,859.85 L180.14,859.84 L179.85,859.83 L179.55,859.81 L179.26,859.80 L178.97,859.79 L178.67,859.77 L178.38,859.76 L178.08,859.75 L177.79,859.73 L177.50,859.72 L177.20,859.71 L176.91,859.69 L176.61,859.68 L176.32,859.66 L176.02,859.65 L175.73,859.63 L175.44,859.62 L175.14,859.60 L174.85,859.59 L174.55,859.57 L174.26,859.56 L173.97,859.54 L173.67,859.52 L173.38,859.51 L173.08,859.49 L172.79,859.47 L172.50,859.46 L172.20,859.44 L171.91,859.42 L171.61,859.41 L171.32,859.39 L171.03,859.37 L170.73,859.35 L170.44,859.33 L170.14,859.31 L169.85,859.30 L169.55,859.28 L169.26,859.26 L168.97,859.24 L168.67,859.22 L168.38,859.20 L168.08,859.18 L167.79,859.16 L167.50,859.14 L167.20,859.12 L166.91,859.10 L166.61,859.08 L166.32,859.06 L166.03,859.03 L165.73,859.01 L165.44,858.99 L165.14,858.97 L164.85,858.95 L164.56,858.92 L164.26,858.90 L163.97,858.88 L163.67,858.85 L163.38,858.83 L163.08,858.81 L162.79,858.78 L162.50,858.76 L162.20,858.73 L161.91,858.71 L161.61,858.68 L161.32,858.66 L161.03,858.63 L160.73,858.61 L160.44,858.58 L160.14,858.56 L159.85,858.53 L159.56,858.50 L159.26,858.47 L158.97,858.45 L158.67,858.42 L158.38,858.39 L158.09,858.36 L157.79,858.33 L157.50,858.31 L157.20,858.28 L156.91,858.25 L156.61,858.22 L156.32,858.19 L156.03,858.16 L155.73,858.13 L155.44,858.10 L155.14,858.06 L154.85,858.03 L154.56,858.00 L154.26,857.97 L153.97,857.94 L153.67,857.90 L153.38,857.87 L153.09,857.84 L152.79,857.80 L152.50,857.77 L152.20,857.73 L151.91,857.70 L151.62,857.66 L151.32,857.63 L151.03,857.59 L150.73,857.56 L150.44,857.52 L150.14,857.48 L149.85,857.44 L149.56,857.41 L149.26,857.37 L148.97,857.33 L148.67,857.29 L148.38,857.25 L148.09,857.21 L147.79,857.17 L147.50,857.13 L147.20,857.09 L146.91,857.05 L146.62,857.01 L146.32,856.96 L146.03,856.92 L145.73,856.88 L145.44,856.83 L145.15,856.79 L144.85,856.74 L144.56,856.70 L144.26,856.65 L143.97,856.61 L143.67,856.56 L143.38,856.51 L143.09,856.47 L142.79,856.42 L142.50,856.37 L142.20,856.32 L141.91,856.27 L141.62,856.22 L141.32,856.17 L141.03,856.12 L140.73,856.07 L140.44,856.01 L140.15,855.96 L139.85,855.91 L139.56,855.85 L139.26,855.80 L138.97,855.74 L138.68,855.69 L138.38,855.63 L138.09,855.57 L137.79,855.52 L137.50,855.46 L137.20,855.40 L136.91,855.34 L136.62,855.28 L136.32,855.22 L136.03,855.15 L135.73,855.09 L135.44,855.03 L135.15,854.96 L134.85,854.90 L134.56,854.83 L134.26,854.77 L133.97,854.70 L133.68,854.63 L133.38,854.56 L133.09,854.49 L132.79,854.42 L132.50,854.35 L132.20,854.28 L131.91,854.21 L131.62,854.13 L131.32,854.06 L131.03,853.98 L130.73,853.91 L130.44,853.83 L130.15,853.75 L129.85,853.67 L129.56,853.59 L129.26,853.51 L128.97,853.43 L128.68,853.34 L128.38,853.26 L128.09,853.17 L127.79,853.09 L127.50,853.00 L127.21,852.91 L126.91,852.82 L126.62,852.73 L126.32,852.63 L126.03,852.54 L125.73,852.45 L125.44,852.35 L125.15,852.25 L124.85,852.15 L124.56,852.05 L124.26,851.95 L123.97,851.85 L123.68,851.75 L123.38,851.64 L123.09,851.53 L122.79,851.43" fill="none" stroke="#0000ff" stroke-width="1.75" stroke-dasharray="6.0 8.7" stroke-dashoffset="1.80"/>
<path clip-path="url(#c2)" d="M318.95,448.95 L319.25,449.56 L319.54,451.31 L319.84,454.16 L320.13,458.09 L320.42,463.01 L320.72,468.86 L321.01,475.56 L321.31,483.00 L321.60,491.09 L321.90,499.73 L322.19,508.82 L322.48,518.26 L322.78,527.97 L323.07,537.85 L323.37,547.83 L323.66,557.84 L323.95,567.82 L324.25,577.70 L324.54,587.46 L324.84,597.03 L325.13,606.41 L325.42,615.55 L325.72,624.44 L326.01,633.06 L326.31,641.41 L326.60,649.47 L326.89,657.25 L327.19,664.73 L327.48,671.94 L327.78,678.85 L328.07,685.49 L328.37,691.86 L328.66,697.97 L328.95,703.82 L329.25,709.42 L329.54,714.78 L329.84,719.91 L330.13,724.82 L330.42,729.52 L330.72,734.01 L331.01,738.31 L331.31,742.43 L331.60,746.37 L331.89,750.13 L332.19,753.74 L332.48,757.19 L332.78,760.50 L333.07,763.66 L333.36,766.70 L333.66,769.60 L333.95,772.39 L334.25,775.06 L334.54,777.62 L334.84,780.07 L335.13,782.43 L335.42,784.69 L335.72,786.87 L336.01,788.95 L336.31,790.96 L336.60,792.88 L336.89,794.74 L337.19,796.52 L337.48,798.23 L337.78,799.88 L338.07,801.47 L338.36,803.00 L338.66,804.47 L338.95,805.89 L339.25,807.26 L339.54,808.58 L339.83,809.85 L340.13,811.07 L340.42,812.26 L340.72,813.40 L341.01,814.50 L341.31,815.57 L341.60,816.60 L341.89,817.60 L342.19,818.56 L342.48,819.49" fill="none" stroke="#0000ff" stroke-width="1.75" stroke-dasharray="6.0 8.7" stroke-dashoffset="1.80"/>
<path clip-path="url(#c2)" d="M376.89,848.86 L376.60,848.86 L376.30,848.86 L376.01,848.85 L375.71,848.84 L375.42,848.83 L375.13,848.82 L374.83,848.81 L374.54,848.79 L374.24,848.77 L373.95,848.75 L373.66,848.73 L373.36,848.71 L373.07,848.68 L372.77,848.65 L372.48,848.62 L372.19,848.58 L371.89,848.55 L371.60,848.51 L371.30,848.47 L371.01,848.42 L370.71,848.38 L370.42,848.33 L370.13,848.28 L369.83,848.23 L369.54,848.17 L369.24,848.11 L368.95,848.05 L368.66,847.99 L368.36,847.93 L368.07,847.86 L367.77,847.79 L367.48,847.71 L367.19,847.64 L366.89,847.56 L366.60,847.47 L366.30,847.39 L366.01,847.30 L365.72,847.21 L365.42,847.11 L365.13,847.02 L364.83,846.92 L364.54,846.81 L364.24,846.71 L363.95,846.60 L363.66,846.48 L363.36,846.36 L363.07,846.24 L362.77,846.12 L362.48,845.99 L362.19,845.86 L361.89,845.72 L361.60,845.58 L361.30,845.44 L361.01,845.29 L360.72,845.14 L360.42,844.98 L360.13,844.82 L359.83,844.66 L359.54,844.49 L359.25,844.31 L358.95,844.13 L358.66,843.95 L358.36,843.76 L358.07,843.56 L357.77,843.36 L357.48,843.16 L357.19,842.95 L356.89,842.73 L356.60,842.51 L356.30,842.28 L356.01,842.04 L355.72,841.80 L355.42,841.55 L355.13,841.30 L354.83,841.04 L354.54,840.77 L354.25,840.49 L353.95,840.21 L353.66,839.91 L353.36,839.61 L353.07,839.31 L352.77,838.99 L352.48,838.66 L352.19,838.33 L351.89,837.98 L351.60,837.63 L351.30,837.27 L351.01,836.89 L350.72,836.51 L350.42,836.11 L350.13,835.71 L349.83,835.29 L349.54,834.86 L349.25,834.41 L348.95,833.96 L348.66,833.49 L348.36,833.00 L348.07,832.51 L347.78,831.99 L347.48,831.47 L347.19,830.92 L346.89,830.36 L346.60,829.78 L346.30,829.19 L346.01,828.58 L345.72,827.94 L345.42,827.29 L345.13,826.62 L344.83,825.92 L344.54,825.21 L344.25,824.47 L343.95,823.70 L343.66,822.91 L343.36,822.10 L343.07,821.26 L342.78,820.39 L342.48,819.49" fill="none" stroke="#0000ff" stroke-width="1.75" stroke-dasharray="6.0 8.7" stroke-dashoffset="0.10"/>
<path clip-path="url(#c2)" d="M437.18,444.84 L436.89,445.15 L436.59,446.61 L436.30,449.18 L436.00,452.84 L435.71,457.51 L435.42,463.14 L435.12,469.63 L434.83,476.90 L434.53,484.84 L434.24,493.37 L433.94,502.37 L433.65,511.75 L433.36,521.42 L433.06,531.29 L432.77,541.28 L432.47,551.31 L432.18,561.33 L431.89,571.28 L431.59,581.10 L431.30,590.76 L431.00,600.22 L430.71,609.46 L430.42,618.45 L430.12,627.18 L429.83,635.63 L429.53,643.80 L429.24,651.69 L428.95,659.28 L428.65,666.59 L428.36,673.62 L428.06,680.36 L427.77,686.83 L427.47,693.04 L427.18,698.99 L426.89,704.68 L426.59,710.14 L426.30,715.36 L426.00,720.36 L425.71,725.14 L425.42,729.72 L425.12,734.10 L424.83,738.29 L424.53,742.30 L424.24,746.14 L423.95,749.81 L423.65,753.33 L423.36,756.70 L423.06,759.93 L422.77,763.03 L422.48,765.99 L422.18,768.84 L421.89,771.56 L421.59,774.18 L421.30,776.68 L421.00,779.09 L420.71,781.40 L420.42,783.62 L420.12,785.76 L419.83,787.81 L419.53,789.78 L419.24,791.68 L418.95,793.50 L418.65,795.25 L418.36,796.94 L418.06,798.57 L417.77,800.14 L417.48,801.65 L417.18,803.10 L416.89,804.51 L416.59,805.86 L416.30,807.17 L416.01,808.43 L415.71,809.65 L415.42,810.82 L415.12,811.96 L414.83,813.05 L414.53,814.12 L414.24,815.14 L413.95,816.13 L413.65,817.09" fill="none" stroke="#0000ff" stroke-width="1.75" stroke-dasharray="6.0 8.7" stroke-dashoffset="1.80"/>
<path clip-path="url(#c2)" d="M376.89,848.86 L377.18,848.86 L377.48,848.86 L377.77,848.85 L378.07,848.84 L378.36,848.83 L378.66,848.82 L378.95,848.81 L379.24,848.79 L379.54,848.77 L379.83,848.75 L380.13,848.73 L380.42,848.71 L380.71,848.68 L381.01,848.65 L381.30,848.62 L381.60,848.59 L381.89,848.55 L382.18,848.52 L382.48,848.48 L382.77,848.44 L383.07,848.39 L383.36,848.35 L383.65,848.30 L383.95,848.25 L384.24,848.19 L384.54,848.14 L384.83,848.08 L385.13,848.02 L385.42,847.96 L385.71,847.89 L386.01,847.82 L386.30,847.75 L386.60,847.68 L386.89,847.61 L387.18,847.53 L387.48,847.45 L387.77,847.37 L388.07,847.28 L388.36,847.19 L388.65,847.10 L388.95,847.01 L389.24,846.91 L389.54,846.81 L389.83,846.71 L390.12,846.60 L390.42,846.49 L390.71,846.38 L391.01,846.27 L391.30,846.15 L391.60,846.03 L391.89,845.90 L392.18,845.77 L392.48,845.64 L392.77,845.51 L393.07,845.37 L393.36,845.23 L393.65,845.08 L393.95,844.93 L394.24,844.78 L394.54,844.62 L394.83,844.46 L395.12,844.29 L395.42,844.12 L395.71,843.94 L396.01,843.76 L396.30,843.58 L396.59,843.39 L396.89,843.20 L397.18,843.00 L397.48,842.80 L397.77,842.59 L398.07,842.37 L398.36,842.16 L398.65,841.93 L398.95,841.70 L399.24,841.46 L399.54,841.22 L399.83,840.97 L400.12,840.72 L400.42,840.46 L400.71,840.19 L401.01,839.91 L401.30,839.63 L401.59,839.34 L401.89,839.05 L402.18,838.74 L402.48,838.43 L402.77,838.11 L403.06,837.78 L403.36,837.44 L403.65,837.10 L403.95,836.74 L404.24,836.38 L404.54,836.00 L404.83,835.62 L405.12,835.22 L405.42,834.81 L405.71,834.40 L406.01,833.97 L406.30,833.53 L406.59,833.07 L406.89,832.61 L407.18,832.13 L407.48,831.64 L407.77,831.13 L408.06,830.61 L408.36,830.07 L408.65,829.52 L408.95,828.95 L409.24,828.37 L409.54,827.77 L409.83,827.15 L410.12,826.51 L410.42,825.85 L410.71,825.17 L411.01,824.47 L411.30,823.75 L411.59,823.01 L411.89,822.24 L412.18,821.45 L412.48,820.63 L412.77,819.79 L413.06,818.92 L413.36,818.02 L413.65,817.09" fill="none" stroke="#0000ff" stroke-width="1.75" stroke-dasharray="6.0 8.7" stroke-dashoffset="0.10"/>
<path clip-path="url(#c2)" d="M437.18,444.84 L437.47,445.68 L437.77,447.66 L438.06,450.74 L438.36,454.87 L438.65,459.99 L438.94,466.02 L439.24,472.87 L439.53,480.45 L439.83,488.65 L440.12,497.39 L440.41,506.55 L440.71,516.04 L441.00,525.78 L441.30,535.67 L441.59,545.65 L441.89,555.65 L442.18,565.59 L442.47,575.44 L442.77,585.15 L443.06,594.67 L443.36,603.98 L443.65,613.05 L443.94,621.87 L444.24,630.42 L444.53,638.69 L444.83,646.68 L445.12,654.37 L445.41,661.78 L445.71,668.91 L446.00,675.75 L446.30,682.31 L446.59,688.61 L446.88,694.64 L447.18,700.41 L447.47,705.94 L447.77,711.24 L448.06,716.30 L448.36,721.15 L448.65,725.78 L448.94,730.21 L449.24,734.45 L449.53,738.51 L449.83,742.39 L450.12,746.10 L450.41,749.65 L450.71,753.05 L451.00,756.30 L451.30,759.42 L451.59,762.40 L451.88,765.25 L452.18,767.99 L452.47,770.61 L452.77,773.13 L453.06,775.54 L453.35,777.85 L453.65,780.07 L453.94,782.20 L454.24,784.24 L454.53,786.20 L454.83,788.09 L455.12,789.90 L455.41,791.64 L455.71,793.31 L456.00,794.92 L456.30,796.46 L456.59,797.95 L456.88,799.38 L457.18,800.76 L457.47,802.09 L457.77,803.37 L458.06,804.60 L458.35,805.78 L458.65,806.93 L458.94,808.03 L459.24,809.09 L459.53,810.12 L459.82,811.11 L460.12,812.06 L460.41,812.98 L460.71,813.87 L461.00,814.73 L461.30,815.56 L461.59,816.36 L461.88,817.13 L462.18,817.88 L462.47,818.60 L462.77,819.29 L463.06,819.97 L463.35,820.62 L463.65,821.25 L463.94,821.85 L464.24,822.44 L464.53,823.01 L464.82,823.56 L465.12,824.09 L465.41,824.60 L465.71,825.10 L466.00,825.58 L466.30,826.05 L466.59,826.49 L466.88,826.93 L467.18,827.35 L467.47,827.75 L467.77,828.15 L468.06,828.52 L468.35,828.89 L468.65,829.24 L468.94,829.59 L469.24,829.92 L469.53,830.24 L469.82,830.54 L470.12,830.84 L470.41,831.13 L470.71,831.40 L471.00,831.67 L471.29,831.93 L471.59,832.18 L471.88,832.42 L472.18,832.65 L472.47,832.87 L472.77,833.08 L473.06,833.28 L473.35,833.48 L473.65,833.67 L473.94,833.85 L474.24,834.02 L474.53,834.19 L474.82,834.35 L475.12,834.50 L475.41,834.64 L475.71,834.78" fill="none" stroke="#0000ff" stroke-width="1.75" stroke-dasharray="6.0 8.7" stroke-dashoffset="1.20"/>
<path clip-path="url(#c2)" d="M122.79,834.78 L123.09,834.64 L123.38,834.50 L123.68,834.35 L123.97,834.19 L124.26,834.02 L124.56,833.85 L124.85,833.67 L125.15,833.48 L125.44,833.28 L125.73,833.08 L126.03,832.87 L126.32,832.65 L126.62,832.42 L126.91,832.18 L127.21,831.93 L127.50,831.67 L127.79,831.40 L128.09,831.13 L128.38,830.84 L128.68,830.54 L128.97,830.24 L129.26,829.92 L129.56,829.59 L129.85,829.24 L130.15,828.89 L130.44,828.52 L130.73,828.15 L131.03,827.75 L131.32,827.35 L131.62,826.93 L131.91,826.49 L132.20,826.05 L132.50,825.58 L132.79,825.10 L133.09,824.60 L133.38,824.09 L133.68,823.56 L133.97,823.01 L134.26,822.44 L134.56,821.85 L134.85,821.25 L135.15,820.62 L135.44,819.97 L135.73,819.29 L136.03,818.60 L136.32,817.88 L136.62,817.13 L136.91,816.36 L137.20,815.56 L137.50,814.73 L137.79,813.87 L138.09,812.98 L138.38,812.06 L138.68,811.11 L138.97,810.12 L139.26,809.09 L139.56,808.03 L139.85,806.93 L140.15,805.78 L140.44,804.60 L140.73,803.37 L141.03,802.09 L141.32,800.76 L141.62,799.38 L141.91,797.95 L142.20,796.46 L142.50,794.92 L142.79,793.31 L143.09,791.64 L143.38,789.90 L143.67,788.09 L143.97,786.20 L144.26,784.24 L144.56,782.20 L144.85,780.07 L145.15,777.85 L145.44,775.54 L145.73,773.13 L146.03,770.61 L146.32,767.99 L146.62,765.25 L146.91,762.40 L147.20,759.42 L147.50,756.30 L147.79,753.05 L148.09,749.65 L148.38,746.10 L148.67,742.39 L148.97,738.51 L149.26,734.45 L149.56,730.21 L149.85,725.78 L150.14,721.15 L150.44,716.30 L150.73,711.24 L151.03,705.94 L151.32,700.41 L151.62,694.64 L151.91,688.61 L152.20,682.31 L152.50,675.75 L152.79,668.91 L153.09,661.78 L153.38,654.37 L153.67,646.68 L153.97,638.69 L154.26,630.42 L154.56,621.87 L154.85,613.05 L155.14,603.98 L155.44,594.67 L155.73,585.15 L156.03,575.44 L156.32,565.59 L156.61,555.65 L156.91,545.65 L157.20,535.67 L157.50,525.78 L157.79,516.04 L158.09,506.55 L158.38,497.39 L158.67,488.65 L158.97,480.45 L159.26,472.87 L159.56,466.02 L159.85,459.99 L160.14,454.87 L160.44,450.74 L160.73,447.66 L161.03,445.68 L161.32,444.84 L161.61,445.15 L161.91,446.61 L162.20,449.18 L162.50,452.84 L162.79,457.51 L163.08,463.14 L163.38,469.63 L163.67,476.90 L163.97,484.84 L164.26,493.37 L164.56,502.37 L164.85,511.75 L165.14,521.42 L165.44,531.29 L165.73,541.28 L166.03,551.31 L166.32,561.33 L166.61,571.28 L166.91,581.10 L167.20,590.76 L167.50,600.22 L167.79,609.46 L168.08,618.45 L168.38,627.18 L168.67,635.63 L168.97,643.80 L169.26,651.69 L169.55,659.28 L169.85,666.59 L170.14,673.62 L170.44,680.36 L170.73,686.83 L171.03,693.04 L171.32,698.99 L171.61,704.68 L171.91,710.14 L172.20,715.36 L172.50,720.36 L172.79,725.14 L173.08,729.72 L173.38,734.10 L173.67,738.29 L173.97,742.30 L174.26,746.14 L174.55,749.81 L174.85,753.33 L175.14,756.70 L175.44,759.93 L175.73,763.03 L176.02,765.99 L176.32,768.84 L176.61,771.56 L176.91,774.18 L177.20,776.68 L177.50,779.09 L177.79,781.40 L178.08,783.62 L178.38,785.76 L178.67,787.81 L178.97,789.78 L179.26,791.68 L179.55,793.50 L179.85,795.25 L180.14,796.94 L180.44,798.57 L180.73,800.14 L181.02,801.65 L181.32,803.10 L181.61,804.51 L181.91,805.86 L182.20,807.17 L182.49,808.43 L182.79,809.65 L183.08,810.82 L183.38,811.96 L183.67,813.05 L183.97,814.12 L184.26,815.14 L184.55,816.13 L184.85,817.09 L185.14,818.02 L185.44,818.92 L185.73,819.79 L186.02,820.63 L186.32,821.45 L186.61,822.24 L186.91,823.01 L187.20,823.75 L187.49,824.47 L187.79,825.17 L188.08,825.85 L188.38,826.51 L188.67,827.15 L188.96,827.77 L189.26,828.37 L189.55,828.95 L189.85,829.52 L190.14,830.07 L190.44,830.61 L190.73,831.13 L191.02,831.64 L191.32,832.13 L191.61,832.61 L191.91,833.07 L192.20,833.53 L192.49,833.97 L192.79,834.40 L193.08,834.81 L193.38,835.22 L193.67,835.62 L193.96,836.00 L194.26,836.38 L194.55,836.74 L194.85,837.10 L195.14,837.44 L195.44,837.78 L195.73,838.11 L196.02,838.43 L196.32,838.74 L196.61,839.05 L196.91,839.34 L197.20,839.63 L197.49,839.91 L197.79,840.19 L198.08,840.46 L198.38,840.72 L198.67,840.97 L198.96,841.22 L199.26,841.46 L199.55,841.70 L199.85,841.93 L200.14,842.16 L200.43,842.37 L200.73,842.59 L201.02,842.80 L201.32,843.00 L201.61,843.20 L201.91,843.39 L202.20,843.58 L202.49,843.76 L202.79,843.94 L203.08,844.12 L203.38,844.29 L203.67,844.46 L203.96,844.62 L204.26,844.78 L204.55,844.93 L204.85,845.08 L205.14,845.23 L205.43,845.37 L205.73,845.51 L206.02,845.64 L206.32,845.77 L206.61,845.90 L206.90,846.03 L207.20,846.15 L207.49,846.27 L207.79,846.38 L208.08,846.49 L208.38,846.60 L208.67,846.71 L208.96,846.81 L209.26,846.91 L209.55,847.01 L209.85,847.10 L210.14,847.19 L210.43,847.28 L210.73,847.37 L211.02,847.45 L211.32,847.53 L211.61,847.61 L211.90,847.68 L212.20,847.75 L212.49,847.82 L212.79,847.89 L213.08,847.96 L213.37,848.02 L213.67,848.08 L213.96,848.14 L214.26,848.19 L214.55,848.25 L214.85,848.30 L215.14,848.35 L215.43,848.39 L215.73,848.44 L216.02,848.48 L216.32,848.52 L216.61,848.55 L216.90,848.59 L217.20,848.62 L217.49,848.65 L217.79,848.68 L218.08,848.71 L218.37,848.73 L218.67,848.75 L218.96,848.77 L219.26,848.79 L219.55,848.81 L219.84,848.82 L220.14,848.83 L220.43,848.84 L220.73,848.85 L221.02,848.86 L221.32,848.86 L221.61,848.86 L221.90,848.86 L222.20,848.86 L222.49,848.85 L222.79,848.84 L223.08,848.83 L223.37,848.82 L223.67,848.81 L223.96,848.79 L224.26,848.77 L224.55,848.75 L224.84,848.73 L225.14,848.71 L225.43,848.68 L225.73,848.65 L226.02,848.62 L226.31,848.58 L226.61,848.55 L226.90,848.51 L227.20,848.47 L227.49,848.42 L227.79,848.38 L228.08,848.33 L228.37,848.28 L228.67,848.23 L228.96,848.17 L229.26,848.11 L229.55,848.05 L229.84,847.99 L230.14,847.93 L230.43,847.86 L230.73,847.79 L231.02,847.71 L231.31,847.64 L231.61,847.56 L231.90,847.47 L232.20,847.39 L232.49,847.30 L232.78,847.21 L233.08,847.11 L233.37,847.02 L233.67,846.92 L233.96,846.81 L234.26,846.71 L234.55,846.60 L234.84,846.48 L235.14,846.36 L235.43,846.24 L235.73,846.12 L236.02,845.99 L236.31,845.86 L236.61,845.72 L236.90,845.58 L237.20,845.44 L237.49,845.29 L237.78,845.14 L238.08,844.98 L238.37,844.82 L238.67,844.66 L238.96,844.49 L239.25,844.31 L239.55,844.13 L239.84,843.95 L240.14,843.76 L240.43,843.56 L240.73,843.36 L241.02,843.16 L241.31,842.95 L241.61,842.73 L241.90,842.51 L242.20,842.28 L242.49,842.04 L242.78,841.80 L243.08,841.55 L243.37,841.30 L243.67,841.04 L243.96,840.77 L244.25,840.49 L244.55,840.21 L244.84,839.91 L245.14,839.61 L245.43,839.31 L245.73,838.99 L246.02,838.66 L246.31,838.33 L246.61,837.98 L246.90,837.63 L247.20,837.27 L247.49,836.89 L247.78,836.51 L248.08,836.11 L248.37,835.71 L248.67,835.29 L248.96,834.86 L249.25,834.41 L249.55,833.96 L249.84,833.49 L250.14,833.00 L250.43,832.51 L250.72,831.99 L251.02,831.47 L251.31,830.92 L251.61,830.36 L251.90,829.78 L252.20,829.19 L252.49,828.58 L252.78,827.94 L253.08,827.29 L253.37,826.62 L253.67,825.92 L253.96,825.21 L254.25,824.47 L254.55,823.70 L254.84,822.91 L255.14,822.10 L255.43,821.26 L255.72,820.39 L256.02,819.49 L256.31,818.56 L256.61,817.60 L256.90,816.60 L257.19,815.57 L257.49,814.50 L257.78,813.40 L258.08,812.26 L258.37,811.07 L258.67,809.85 L258.96,808.58 L259.25,807.26 L259.55,805.89 L259.84,804.47 L260.14,803.00 L260.43,801.47 L260.72,799.88 L261.02,798.23 L261.31,796.52 L261.61,794.74 L261.90,792.88 L262.19,790.96 L262.49,788.95 L262.78,786.87 L263.08,784.69 L263.37,782.43 L263.66,780.07 L263.96,777.62 L264.25,775.06 L264.55,772.39 L264.84,769.60 L265.14,766.70 L265.43,763.66 L265.72,760.50 L266.02,757.19 L266.31,753.74 L266.61,750.13 L266.90,746.37 L267.19,742.43 L267.49,738.31 L267.78,734.01 L268.08,729.52 L268.37,724.82 L268.66,719.91 L268.96,714.78 L269.25,709.42 L269.55,703.82 L269.84,697.97 L270.13,691.86 L270.43,685.49 L270.72,678.85 L271.02,671.94 L271.31,664.73 L271.61,657.25 L271.90,649.47 L272.19,641.41 L272.49,633.06 L272.78,624.44 L273.08,615.55 L273.37,606.41 L273.66,597.03 L273.96,587.46 L274.25,577.70 L274.55,567.82 L274.84,557.84 L275.13,547.83 L275.43,537.85 L275.72,527.97 L276.02,518.26 L276.31,508.82 L276.60,499.73 L276.90,491.09 L277.19,483.00 L277.49,475.56 L277.78,468.86 L278.08,463.01 L278.37,458.09 L278.66,454.16 L278.96,451.31 L279.25,449.56 L279.55,448.95 L279.84,449.50 L280.13,451.19 L280.43,453.99 L280.72,457.86 L281.02,462.73 L281.31,468.54 L281.60,475.20 L281.90,482.61 L282.19,490.68 L282.49,499.31 L282.78,508.39 L283.07,517.83 L283.37,527.54 L283.66,537.44 L283.96,547.44 L284.25,557.47 L284.55,567.47 L284.84,577.38 L285.13,587.17 L285.43,596.78 L285.72,606.19 L286.02,615.37 L286.31,624.30 L286.60,632.97 L286.90,641.36 L287.19,649.46 L287.49,657.28 L287.78,664.81 L288.07,672.05 L288.37,679.01 L288.66,685.69 L288.96,692.10 L289.25,698.25 L289.54,704.14 L289.84,709.78 L290.13,715.18 L290.43,720.35 L290.72,725.30 L291.02,730.03 L291.31,734.56 L291.60,738.90 L291.90,743.05 L292.19,747.02 L292.49,750.82 L292.78,754.46 L293.07,757.95 L293.37,761.29 L293.66,764.49 L293.96,767.55 L294.25,770.49 L294.54,773.31 L294.84,776.01 L295.13,778.60 L295.43,781.09 L295.72,783.47 L296.01,785.77 L296.31,787.97 L296.60,790.08 L296.90,792.12 L297.19,794.07 L297.49,795.96 L297.78,797.77 L298.07,799.51 L298.37,801.19 L298.66,802.80 L298.96,804.36 L299.25,805.86 L299.54,807.31 L299.84,808.70 L300.13,810.05 L300.43,811.35 L300.72,812.61 L301.01,813.82 L301.31,814.99 L301.60,816.12 L301.90,817.22 L302.19,818.27 L302.49,819.30 L302.78,820.29 L303.07,821.25 L303.37,822.17 L303.66,823.07 L303.96,823.94 L304.25,824.79 L304.54,825.60 L304.84,826.40 L305.13,827.16 L305.43,827.91 L305.72,828.63 L306.01,829.34 L306.31,830.02 L306.60,830.68 L306.90,831.32 L307.19,831.95 L307.48,832.55 L307.78,833.14 L308.07,833.72 L308.37,834.28 L308.66,834.82 L308.96,835.35 L309.25,835.86 L309.54,836.36 L309.84,836.85 L310.13,837.32 L310.43,837.78 L310.72,838.23 L311.01,838.67 L311.31,839.10 L311.60,839.52 L311.90,839.92 L312.19,840.32 L312.48,840.70 L312.78,841.08 L313.07,841.45 L313.37,841.81 L313.66,842.16 L313.95,842.50 L314.25,842.83 L314.54,843.16 L314.84,843.48 L315.13,843.79 L315.43,844.09 L315.72,844.39 L316.01,844.68 L316.31,844.96 L316.60,845.24 L316.90,845.51 L317.19,845.78 L317.48,846.04 L317.78,846.29 L318.07,846.54 L318.37,846.78 L318.66,847.02 L318.95,847.25 L319.25,847.48 L319.54,847.70 L319.84,847.92 L320.13,848.14 L320.42,848.35 L320.72,848.55 L321.01,848.75 L321.31,848.95 L321.60,849.14 L321.90,849.33 L322.19,849.52 L322.48,849.70 L322.78,849.88 L323.07,850.05 L323.37,850.23 L323.66,850.39 L323.95,850.56 L324.25,850.72 L324.54,850.88 L324.84,851.04 L325.13,851.19 L325.42,851.34 L325.72,851.49 L326.01,851.63 L326.31,851.77 L326.60,851.91 L326.89,852.05 L327.19,852.19 L327.48,852.32 L327.78,852.45 L328.07,852.58 L328.37,852.70 L328.66,852.82 L328.95,852.94 L329.25,853.06 L329.54,853.18 L329.84,853.29 L330.13,853.41 L330.42,853.52 L330.72,853.63 L331.01,853.73 L331.31,853.84 L331.60,853.94 L331.89,854.05 L332.19,854.15 L332.48,854.24 L332.78,854.34 L333.07,854.44 L333.36,854.53 L333.66,854.62 L333.95,854.71 L334.25,854.80 L334.54,854.89 L334.84,854.98 L335.13,855.06 L335.42,855.15 L335.72,855.23 L336.01,855.31 L336.31,855.39 L336.60,855.47 L336.89,855.54 L337.19,855.62 L337.48,855.70 L337.78,855.77 L338.07,855.84 L338.36,855.91 L338.66,855.98 L338.95,856.05 L339.25,856.12 L339.54,856.19 L339.83,856.26 L340.13,856.32 L340.42,856.39 L340.72,856.45 L341.01,856.51 L341.31,856.57 L341.60,856.63 L341.89,856.69 L342.19,856.75 L342.48,856.81 L342.78,856.87 L343.07,856.92 L343.36,856.98 L343.66,857.03 L343.95,857.09 L344.25,857.14 L344.54,857.19 L344.83,857.25 L345.13,857.30 L345.42,857.35 L345.72,857.40 L346.01,857.45 L346.30,857.49 L346.60,857.54 L346.89,857.59 L347.19,857.63 L347.48,857.68 L347.78,857.72 L348.07,857.77 L348.36,857.81 L348.66,857.85 L348.95,857.90 L349.25,857.94 L349.54,857.98 L349.83,858.02 L350.13,858.06 L350.42,858.10 L350.72,858.14 L351.01,858.18 L351.30,858.21 L351.60,858.25 L351.89,858.29 L352.19,858.32 L352.48,858.36 L352.77,858.40 L353.07,858.43 L353.36,858.46 L353.66,858.50 L353.95,858.53 L354.25,858.56 L354.54,858.60 L354.83,858.63 L355.13,858.66 L355.42,858.69 L355.72,858.72 L356.01,858.75 L356.30,858.78 L356.60,858.81 L356.89,858.84 L357.19,858.87 L357.48,858.90 L357.77,858.93 L358.07,858.95 L358.36,858.98 L358.66,859.01 L358.95,859.03 L359.25,859.06 L359.54,859.08 L359.83,859.11 L360.13,859.13 L360.42,859.16 L360.72,859.18 L361.01,859.21 L361.30,859.23 L361.60,859.25 L361.89,859.28 L362.19,859.30 L362.48,859.32 L362.77,859.34 L363.07,859.36 L363.36,859.39 L363.66,859.41 L363.95,859.43 L364.24,859.45 L364.54,859.47 L364.83,859.49 L365.13,859.51 L365.42,859.53 L365.72,859.54 L366.01,859.56 L366.30,859.58 L366.60,859.60 L366.89,859.62 L367.19,859.63 L367.48,859.65 L367.77,859.67 L368.07,859.69 L368.36,859.70 L368.66,859.72 L368.95,859.73 L369.24,859.75 L369.54,859.76 L369.83,859.78 L370.13,859.79 L370.42,859.81 L370.71,859.82 L371.01,859.84 L371.30,859.85 L371.60,859.87 L371.89,859.88 L372.19,859.89 L372.48,859.91 L372.77,859.92 L373.07,859.93 L373.36,859.94 L373.66,859.96 L373.95,859.97 L374.24,859.98 L374.54,859.99 L374.83,860.00 L375.13,860.01 L375.42,860.02 L375.71,860.03 L376.01,860.04 L376.30,860.06 L376.60,860.07 L376.89,860.07 L377.18,860.08 L377.48,860.09 L377.77,860.10 L378.07,860.11 L378.36,860.12 L378.66,860.13 L378.95,860.14 L379.24,860.15 L379.54,860.15 L379.83,860.16 L380.13,860.17 L380.42,860.18 L380.71,860.19 L381.01,860.19 L381.30,860.20 L381.60,860.21 L381.89,860.21 L382.18,860.22 L382.48,860.23 L382.77,860.23 L383.07,860.24 L383.36,860.24 L383.65,860.25 L383.95,860.25 L384.24,860.26 L384.54,860.26 L384.83,860.27 L385.13,860.27 L385.42,860.28 L385.71,860.28 L386.01,860.29 L386.30,860.29 L386.60,860.30 L386.89,860.30 L387.18,860.30 L387.48,860.31 L387.77,860.31 L388.07,860.31 L388.36,860.32 L388.65,860.32 L388.95,860.32 L389.24,860.32 L389.54,860.33 L389.83,860.33 L390.12,860.33 L390.42,860.33 L390.71,860.33 L391.01,860.34 L391.30,860.34 L391.60,860.34 L391.89,860.34 L392.18,860.34 L392.48,860.34 L392.77,860.34 L393.07,860.34 L393.36,860.34 L393.65,860.34 L393.95,860.34 L394.24,860.34 L394.54,860.34 L394.83,860.34 L395.12,860.34 L395.42,860.34 L395.71,860.34 L396.01,860.34 L396.30,860.34 L396.59,860.34 L396.89,860.34 L397.18,860.33 L397.48,860.33 L397.77,860.33 L398.07,860.33 L398.36,860.33 L398.65,860.32 L398.95,860.32 L399.24,860.32 L399.54,860.32 L399.83,860.31 L400.12,860.31 L400.42,860.31 L400.71,860.30 L401.01,860.30 L401.30,860.30 L401.59,860.29 L401.89,860.29 L402.18,860.29 L402.48,860.28 L402.77,860.28 L403.06,860.27 L403.36,860.27 L403.65,860.26 L403.95,860.26 L404.24,860.25 L404.54,860.25 L404.83,860.24 L405.12,860.24 L405.42,860.23 L405.71,860.23 L406.01,860.22 L406.30,860.21 L406.59,860.21 L406.89,860.20 L407.18,860.20 L407.48,860.19 L407.77,860.18 L408.06,860.18 L408.36,860.17 L408.65,860.16 L408.95,860.15 L409.24,860.15 L409.54,860.14 L409.83,860.13 L410.12,860.12 L410.42,860.11 L410.71,860.11 L411.01,860.10 L411.30,860.09 L411.59,860.08 L411.89,860.07 L412.18,860.06 L412.48,860.05 L412.77,860.04 L413.06,860.03 L413.36,860.03 L413.65,860.02 L413.95,860.01 L414.24,860.00 L414.53,859.99 L414.83,859.97 L415.12,859.96 L415.42,859.95 L415.71,859.94 L416.01,859.93 L416.30,859.92 L416.59,859.91 L416.89,859.90 L417.18,859.89 L417.48,859.87 L417.77,859.86 L418.06,859.85 L418.36,859.84 L418.65,859.83 L418.95,859.81 L419.24,859.80 L419.53,859.79 L419.83,859.77 L420.12,859.76 L420.42,859.75 L420.71,859.73 L421.00,859.72 L421.30,859.71 L421.59,859.69 L421.89,859.68 L422.18,859.66 L422.48,859.65 L422.77,859.63 L423.06,859.62 L423.36,859.60 L423.65,859.59 L423.95,859.57 L424.24,859.56 L424.53,859.54 L424.83,859.52 L425.12,859.51 L425.42,859.49 L425.71,859.47 L426.00,859.46 L426.30,859.44 L426.59,859.42 L426.89,859.41 L427.18,859.39 L427.47,859.37 L427.77,859.35 L428.06,859.33 L428.36,859.31 L428.65,859.30 L428.95,859.28 L429.24,859.26 L429.53,859.24 L429.83,859.22 L430.12,859.20 L430.42,859.18 L430.71,859.16 L431.00,859.14 L431.30,859.12 L431.59,859.10 L431.89,859.08 L432.18,859.06 L432.47,859.03 L432.77,859.01 L433.06,858.99 L433.36,858.97 L433.65,858.95 L433.94,858.92 L434.24,858.90 L434.53,858.88 L434.83,858.85 L435.12,858.83 L435.42,858.81 L435.71,858.78 L436.00,858.76 L436.30,858.73 L436.59,858.71 L436.89,858.68 L437.18,858.66 L437.47,858.63 L437.77,858.61 L438.06,858.58 L438.36,858.56 L438.65,858.53 L438.94,858.50 L439.24,858.47 L439.53,858.45 L439.83,858.42 L440.12,858.39 L440.41,858.36 L440.71,858.33 L441.00,858.31 L441.30,858.28 L441.59,858.25 L441.89,858.22 L442.18,858.19 L442.47,858.16 L442.77,858.13 L443.06,858.10 L443.36,858.06 L443.65,858.03 L443.94,858.00 L444.24,857.97 L444.53,857.94 L444.83,857.90 L445.12,857.87 L445.41,857.84 L445.71,857.80 L446.00,857.77 L446.30,857.73 L446.59,857.70 L446.88,857.66 L447.18,857.63 L447.47,857.59 L447.77,857.56 L448.06,857.52 L448.36,857.48 L448.65,857.44 L448.94,857.41 L449.24,857.37 L449.53,857.33 L449.83,857.29 L450.12,857.25 L450.41,857.21 L450.71,857.17 L451.00,857.13 L451.30,857.09 L451.59,857.05 L451.88,857.01 L452.18,856.96 L452.47,856.92 L452.77,856.88 L453.06,856.83 L453.35,856.79 L453.65,856.74 L453.94,856.70 L454.24,856.65 L454.53,856.61 L454.83,856.56 L455.12,856.51 L455.41,856.47 L455.71,856.42 L456.00,856.37 L456.30,856.32 L456.59,856.27 L456.88,856.22 L457.18,856.17 L457.47,856.12 L457.77,856.07 L458.06,856.01 L458.35,855.96 L458.65,855.91 L458.94,855.85 L459.24,855.80 L459.53,855.74 L459.82,855.69 L460.12,855.63 L460.41,855.57 L460.71,855.52 L461.00,855.46 L461.30,855.40 L461.59,855.34 L461.88,855.28 L462.18,855.22 L462.47,855.15 L462.77,855.09 L463.06,855.03 L463.35,854.96 L463.65,854.90 L463.94,854.83 L464.24,854.77 L464.53,854.70 L464.82,854.63 L465.12,854.56 L465.41,854.49 L465.71,854.42 L466.00,854.35 L466.30,854.28 L466.59,854.21 L466.88,854.13 L467.18,854.06 L467.47,853.98 L467.77,853.91 L468.06,853.83 L468.35,853.75 L468.65,853.67 L468.94,853.59 L469.24,853.51 L469.53,853.43 L469.82,853.34 L470.12,853.26 L470.41,853.17 L470.71,853.09 L471.00,853.00 L471.29,852.91 L471.59,852.82 L471.88,852.73 L472.18,852.63 L472.47,852.54 L472.77,852.45 L473.06,852.35 L473.35,852.25 L473.65,852.15 L473.94,852.05 L474.24,851.95 L474.53,851.85 L474.82,851.75 L475.12,851.64 L475.41,851.53 L475.71,851.43" fill="none" stroke="#ff0000" stroke-width="1.6" stroke-linejoin="round"/>
<path clip-path="url(#c3)" d="M628.91,450.34 L628.62,451.43 L628.32,454.09 L628.03,458.26 L627.74,463.85 L627.45,470.75 L627.15,478.80 L626.86,487.85 L626.57,497.75 L626.27,508.32 L625.98,519.42 L625.69,530.88 L625.40,542.58 L625.10,554.38 L624.81,566.17 L624.52,577.87 L624.22,589.39 L623.93,600.66 L623.64,611.64 L623.35,622.29 L623.05,632.58 L622.76,642.48 L622.47,651.99 L622.17,661.11 L621.88,669.82 L621.59,678.14 L621.30,686.07 L621.00,693.62 L620.71,700.80 L620.42,707.63 L620.12,714.12 L619.83,720.29 L619.54,726.14 L619.25,731.70 L618.95,736.98 L618.66,741.99 L618.37,746.74 L618.07,751.26 L617.78,755.55 L617.49,759.63 L617.20,763.50 L616.90,767.19 L616.61,770.69 L616.32,774.02 L616.03,777.19 L615.73,780.22 L615.44,783.09 L615.15,785.84 L614.85,788.45 L614.56,790.94 L614.27,793.32 L613.98,795.60 L613.68,797.77 L613.39,799.84 L613.10,801.83 L612.80,803.72 L612.51,805.54 L612.22,807.28 L611.93,808.94 L611.63,810.54 L611.34,812.07 L611.05,813.54 L610.75,814.95 L610.46,816.30 L610.17,817.60 L609.88,818.85 L609.58,820.05 L609.29,821.20 L609.00,822.31 L608.70,823.38 L608.41,824.41 L608.12,825.40 L607.83,826.36 L607.53,827.28 L607.24,828.16 L606.95,829.02 L606.65,829.85 L606.36,830.65 L606.07,831.42 L605.78,832.16 L605.48,832.88 L605.19,833.57 L604.90,834.25 L604.61,834.90 L604.31,835.53 L604.02,836.13 L603.73,836.72 L603.43,837.29 L603.14,837.85 L602.85,838.38 L602.56,838.90 L602.26,839.41 L601.97,839.90 L601.68,840.37 L601.38,840.83 L601.09,841.28 L600.80,841.71 L600.51,842.13 L600.21,842.54 L599.92,842.94 L599.63,843.32 L599.33,843.70 L599.04,844.06 L598.75,844.42 L598.46,844.76 L598.16,845.10 L597.87,845.42 L597.58,845.74 L597.28,846.05 L596.99,846.35 L596.70,846.65 L596.41,846.93 L596.11,847.21 L595.82,847.48 L595.53,847.74 L595.23,848.00 L594.94,848.25 L594.65,848.50 L594.36,848.74 L594.06,848.97 L593.77,849.20 L593.48,849.42 L593.19,849.64 L592.89,849.85 L592.60,850.05 L592.31,850.26 L592.01,850.45 L591.72,850.64 L591.43,850.83 L591.14,851.02 L590.84,851.19 L590.55,851.37 L590.26,851.54 L589.96,851.71 L589.67,851.87 L589.38,852.03 L589.09,852.19 L588.79,852.34 L588.50,852.49 L588.21,852.63 L587.91,852.78 L587.62,852.92 L587.33,853.05 L587.04,853.19 L586.74,853.32 L586.45,853.45 L586.16,853.57 L585.86,853.70 L585.57,853.82 L585.28,853.93 L584.99,854.05 L584.69,854.16 L584.40,854.27 L584.11,854.38 L583.81,854.49 L583.52,854.59 L583.23,854.69 L582.94,854.79 L582.64,854.89 L582.35,854.99 L582.06,855.08 L581.77,855.17 L581.47,855.26 L581.18,855.35 L580.89,855.44 L580.59,855.52 L580.30,855.60 L580.01,855.69 L579.72,855.77 L579.42,855.84 L579.13,855.92 L578.84,856.00 L578.54,856.07 L578.25,856.14 L577.96,856.21 L577.67,856.28 L577.37,856.35 L577.08,856.42 L576.79,856.48 L576.49,856.55 L576.20,856.61 L575.91,856.67 L575.62,856.73 L575.32,856.79 L575.03,856.85 L574.74,856.91 L574.44,856.96 L574.15,857.02 L573.86,857.07 L573.57,857.13 L573.27,857.18 L572.98,857.23 L572.69,857.28 L572.39,857.33 L572.10,857.38 L571.81,857.42 L571.52,857.47 L571.22,857.51 L570.93,857.56 L570.64,857.60 L570.35,857.64 L570.05,857.69 L569.76,857.73 L569.47,857.77 L569.17,857.81 L568.88,857.84 L568.59,857.88 L568.30,857.92 L568.00,857.95 L567.71,857.99 L567.42,858.02 L567.12,858.06 L566.83,858.09 L566.54,858.12 L566.25,858.16 L565.95,858.19 L565.66,858.22 L565.37,858.25 L565.07,858.28 L564.78,858.31 L564.49,858.33 L564.20,858.36 L563.90,858.39 L563.61,858.41 L563.32,858.44 L563.02,858.47 L562.73,858.49 L562.44,858.51 L562.15,858.54 L561.85,858.56 L561.56,858.58 L561.27,858.60 L560.98,858.62 L560.68,858.65 L560.39,858.67 L560.10,858.68 L559.80,858.70 L559.51,858.72 L559.22,858.74 L558.93,858.76 L558.63,858.78 L558.34,858.79 L558.05,858.81 L557.75,858.82 L557.46,858.84 L557.17,858.85 L556.88,858.87 L556.58,858.88 L556.29,858.90 L556.00,858.91 L555.70,858.92 L555.41,858.93 L555.12,858.94 L554.83,858.96 L554.53,858.97 L554.24,858.98 L553.95,858.99 L553.65,859.00 L553.36,859.01 L553.07,859.01 L552.78,859.02 L552.48,859.03 L552.19,859.04 L551.90,859.05 L551.60,859.05 L551.31,859.06 L551.02,859.06 L550.73,859.07 L550.43,859.08 L550.14,859.08 L549.85,859.08 L549.56,859.09 L549.26,859.09 L548.97,859.10 L548.68,859.10 L548.38,859.10 L548.09,859.10 L547.80,859.11 L547.51,859.11 L547.21,859.11 L546.92,859.11 L546.63,859.11 L546.33,859.11 L546.04,859.11 L545.75,859.11 L545.46,859.11 L545.16,859.11 L544.87,859.11 L544.58,859.10 L544.28,859.10 L543.99,859.10 L543.70,859.10 L543.41,859.09 L543.11,859.09 L542.82,859.09 L542.53,859.08 L542.23,859.08 L541.94,859.07 L541.65,859.07 L541.36,859.06 L541.06,859.05 L540.77,859.05 L540.48,859.04 L540.18,859.03 L539.89,859.03 L539.60,859.02 L539.31,859.01 L539.01,859.00 L538.72,858.99 L538.43,858.98 L538.14,858.97 L537.84,858.97 L537.55,858.96 L537.26,858.94 L536.96,858.93 L536.67,858.92 L536.38,858.91 L536.09,858.90 L535.79,858.89 L535.50,858.87 L535.21,858.86 L534.91,858.85 L534.62,858.83 L534.33,858.82 L534.04,858.81 L533.74,858.79 L533.45,858.78 L533.16,858.76 L532.86,858.75 L532.57,858.73 L532.28,858.71 L531.99,858.70 L531.69,858.68 L531.40,858.66 L531.11,858.64 L530.81,858.63 L530.52,858.61 L530.23,858.59 L529.94,858.57 L529.64,858.55 L529.35,858.53 L529.06,858.51 L528.76,858.49 L528.47,858.47 L528.18,858.44 L527.89,858.42 L527.59,858.40 L527.30,858.38 L527.01,858.35 L526.72,858.33 L526.42,858.31 L526.13,858.28 L525.84,858.26 L525.54,858.23 L525.25,858.20 L524.96,858.18 L524.67,858.15 L524.37,858.12 L524.08,858.10 L523.79,858.07 L523.49,858.04 L523.20,858.01 L522.91,857.98 L522.62,857.95 L522.32,857.92 L522.03,857.89 L521.74,857.86 L521.44,857.83 L521.15,857.80 L520.86,857.76 L520.57,857.73 L520.27,857.70 L519.98,857.66 L519.69,857.63 L519.39,857.59 L519.10,857.55 L518.81,857.52 L518.52,857.48 L518.22,857.44 L517.93,857.41 L517.64,857.37 L517.34,857.33 L517.05,857.29 L516.76,857.25 L516.47,857.21 L516.17,857.17 L515.88,857.12 L515.59,857.08 L515.30,857.04 L515.00,856.99 L514.71,856.95 L514.42,856.90 L514.12,856.86 L513.83,856.81 L513.54,856.76 L513.25,856.72 L512.95,856.67 L512.66,856.62 L512.37,856.57 L512.07,856.52 L511.78,856.47 L511.49,856.41 L511.20,856.36 L510.90,856.31 L510.61,856.25 L510.32,856.20 L510.02,856.14 L509.73,856.08 L509.44,856.03 L509.15,855.97 L508.85,855.91 L508.56,855.85 L508.27,855.79 L507.97,855.72 L507.68,855.66 L507.39,855.60 L507.10,855.53 L506.80,855.46 L506.51,855.40 L506.22,855.33 L505.92,855.26 L505.63,855.19 L505.34,855.12 L505.05,855.05 L504.75,854.97 L504.46,854.90 L504.17,854.82 L503.88,854.75 L503.58,854.67 L503.29,854.59 L503.00,854.51 L502.70,854.43 L502.41,854.35 L502.12,854.26 L501.83,854.18 L501.53,854.09 L501.24,854.00 L500.95,853.91 L500.65,853.82 L500.36,853.73 L500.07,853.64 L499.78,853.54 L499.48,853.44 L499.19,853.34 L498.90,853.24 L498.60,853.14 L498.31,853.04 L498.02,852.93 L497.73,852.83 L497.43,852.72 L497.14,852.61 L496.85,852.50 L496.55,852.38 L496.26,852.27 L495.97,852.15 L495.68,852.03 L495.38,851.91 L495.09,851.78 L494.80,851.65 L494.50,851.53 L494.21,851.39 L493.92,851.26 L493.63,851.12 L493.33,850.99 L493.04,850.85 L492.75,850.70 L492.46,850.56 L492.16,850.41 L491.87,850.26 L491.58,850.10 L491.28,849.94 L490.99,849.78 L490.70,849.62 L490.41,849.45 L490.11,849.28 L489.82,849.11 L489.53,848.93 L489.23,848.75 L488.94,848.57 L488.65,848.38 L488.36,848.19 L488.06,848.00 L487.77,847.80 L487.48,847.60 L487.18,847.39 L486.89,847.18 L486.60,846.96 L486.31,846.74 L486.01,846.52 L485.72,846.29 L485.43,846.05 L485.13,845.81 L484.84,845.56 L484.55,845.31 L484.26,845.06 L483.96,844.79 L483.67,844.53 L483.38,844.25 L483.08,843.97 L482.79,843.68 L482.50,843.39 L482.21,843.09 L481.91,842.78 L481.62,842.46 L481.33,842.14 L481.04,841.81 L480.74,841.47 L480.45,841.12 L480.16,840.76 L479.86,840.40 L479.57,840.02 L479.28,839.64 L478.99,839.24 L478.69,838.83 L478.40,838.42 L478.11,837.99 L477.81,837.55 L477.52,837.10 L477.23,836.63 L476.94,836.16 L476.64,835.67 L476.35,835.16 L476.06,834.64 L475.76,834.11 L475.47,833.56 L475.18,832.99 L474.89,832.41 L474.59,831.81 L474.30,831.19 L474.01,830.55 L473.71,829.89 L473.42,829.21 L473.13,828.51 L472.84,827.78 L472.54,827.04 L472.25,826.26 L471.96,825.47 L471.66,824.64 L471.37,823.79 L471.08,822.91 L470.79,821.99 L470.49,821.05 L470.20,820.07 L469.91,819.05" fill="none" stroke="#0000ff" stroke-width="1.75" stroke-dasharray="6.0 8.7" stroke-dashoffset="9.40"/>
<path clip-path="url(#c3)" d="M628.91,450.34 L629.20,450.85 L629.49,452.94 L629.79,456.57 L630.08,461.66 L630.37,468.09 L630.67,475.74 L630.96,484.44 L631.25,494.05 L631.54,504.40 L631.84,515.32 L632.13,526.67 L632.42,538.29 L632.72,550.07 L633.01,561.87 L633.30,573.61 L633.59,585.20 L633.89,596.57 L634.18,607.66 L634.47,618.44 L634.77,628.86 L635.06,638.90 L635.35,648.55 L635.64,657.81 L635.94,666.67 L636.23,675.13 L636.52,683.19 L636.82,690.88 L637.11,698.20 L637.40,705.15 L637.69,711.76 L637.99,718.04 L638.28,724.01 L638.57,729.67 L638.87,735.04 L639.16,740.15 L639.45,744.99 L639.74,749.60 L640.04,753.97 L640.33,758.12 L640.62,762.06 L640.91,765.81 L641.21,769.38 L641.50,772.77 L641.79,776.00 L642.09,779.08 L642.38,782.00 L642.67,784.79 L642.96,787.45 L643.26,789.99 L643.55,792.41 L643.84,794.72 L644.14,796.92 L644.43,799.03 L644.72,801.04 L645.01,802.97 L645.31,804.82 L645.60,806.58 L645.89,808.27 L646.19,809.89 L646.48,811.44 L646.77,812.93 L647.06,814.36 L647.36,815.73 L647.65,817.05 L647.94,818.31 L648.24,819.53 L648.53,820.70 L648.82,821.82 L649.11,822.91 L649.41,823.95 L649.70,824.95 L649.99,825.92 L650.29,826.85 L650.58,827.75 L650.87,828.61 L651.16,829.45 L651.46,830.25 L651.75,831.03 L652.04,831.78 L652.33,832.51 L652.63,833.21 L652.92,833.89 L653.21,834.55 L653.51,835.18 L653.80,835.80 L654.09,836.39 L654.38,836.97 L654.68,837.53 L654.97,838.07 L655.26,838.59 L655.56,839.10 L655.85,839.59 L656.14,840.07 L656.43,840.53 L656.73,840.98 L657.02,841.42 L657.31,841.84 L657.61,842.25 L657.90,842.65 L658.19,843.04 L658.48,843.42 L658.78,843.79 L659.07,844.14 L659.36,844.49 L659.66,844.83 L659.95,845.15 L660.24,845.47 L660.53,845.78 L660.83,846.09 L661.12,846.38 L661.41,846.67 L661.71,846.95 L662.00,847.22 L662.29,847.48 L662.58,847.74 L662.88,847.99 L663.17,848.24 L663.46,848.48 L663.75,848.71 L664.05,848.94 L664.34,849.16 L664.63,849.38 L664.93,849.59 L665.22,849.80 L665.51,850.00 L665.80,850.19 L666.10,850.39 L666.39,850.57 L666.68,850.76 L666.98,850.93 L667.27,851.11 L667.56,851.28 L667.85,851.45 L668.15,851.61 L668.44,851.77 L668.73,851.92 L669.03,852.08 L669.32,852.22 L669.61,852.37 L669.90,852.51 L670.20,852.65 L670.49,852.79 L670.78,852.92 L671.08,853.05 L671.37,853.18 L671.66,853.30 L671.95,853.42 L672.25,853.54 L672.54,853.66 L672.83,853.77 L673.13,853.88 L673.42,853.99 L673.71,854.10 L674.00,854.20 L674.30,854.31 L674.59,854.41 L674.88,854.50 L675.17,854.60 L675.47,854.69 L675.76,854.79 L676.05,854.88 L676.35,854.96 L676.64,855.05 L676.93,855.14 L677.22,855.22 L677.52,855.30 L677.81,855.38 L678.10,855.46 L678.40,855.53 L678.69,855.61 L678.98,855.68 L679.27,855.75 L679.57,855.82 L679.86,855.89 L680.15,855.96 L680.45,856.03 L680.74,856.09 L681.03,856.15 L681.32,856.22 L681.62,856.28 L681.91,856.34 L682.20,856.39 L682.50,856.45 L682.79,856.51 L683.08,856.56 L683.37,856.61 L683.67,856.67 L683.96,856.72 L684.25,856.77 L684.55,856.82 L684.84,856.87 L685.13,856.91 L685.42,856.96 L685.72,857.00 L686.01,857.05 L686.30,857.09 L686.59,857.13 L686.89,857.17 L687.18,857.22 L687.47,857.25 L687.77,857.29 L688.06,857.33 L688.35,857.37 L688.64,857.40 L688.94,857.44 L689.23,857.47 L689.52,857.51 L689.82,857.54 L690.11,857.57 L690.40,857.60 L690.69,857.63 L690.99,857.66 L691.28,857.69 L691.57,857.72 L691.87,857.75 L692.16,857.78 L692.45,857.80 L692.74,857.83 L693.04,857.85 L693.33,857.88 L693.62,857.90 L693.92,857.92 L694.21,857.95 L694.50,857.97 L694.79,857.99 L695.09,858.01 L695.38,858.03 L695.67,858.05 L695.97,858.07 L696.26,858.08 L696.55,858.10 L696.84,858.12 L697.14,858.14 L697.43,858.15 L697.72,858.17 L698.01,858.18 L698.31,858.19 L698.60,858.21 L698.89,858.22 L699.19,858.23 L699.48,858.25 L699.77,858.26 L700.06,858.27 L700.36,858.28 L700.65,858.29 L700.94,858.30 L701.24,858.31 L701.53,858.31 L701.82,858.32 L702.11,858.33 L702.41,858.34 L702.70,858.34 L702.99,858.35 L703.29,858.35 L703.58,858.36 L703.87,858.36 L704.16,858.37 L704.46,858.37 L704.75,858.37 L705.04,858.38 L705.34,858.38 L705.63,858.38 L705.92,858.38 L706.21,858.38 L706.51,858.38" fill="none" stroke="#0000ff" stroke-width="1.75" stroke-dasharray="6.0 8.7" stroke-dashoffset="9.40"/>
<path clip-path="url(#c3)" d="M794.94,441.06 L794.65,443.99 L794.35,448.55 L794.06,454.50 L793.77,461.73 L793.47,470.08 L793.18,479.41 L792.89,489.55 L792.60,500.34 L792.30,511.62 L792.01,523.24 L791.72,535.06 L791.42,546.97 L791.13,558.85 L790.84,570.61 L790.55,582.19 L790.25,593.51 L789.96,604.52 L789.67,615.20 L789.37,625.51 L789.08,635.43 L788.79,644.95 L788.50,654.08 L788.20,662.81 L787.91,671.14 L787.62,679.08 L787.32,686.64 L787.03,693.84 L786.74,700.69 L786.45,707.20 L786.15,713.38 L785.86,719.26 L785.57,724.84 L785.28,730.14 L784.98,735.17 L784.69,739.96 L784.40,744.51 L784.10,748.83 L783.81,752.94 L783.52,756.84 L783.23,760.56 L782.93,764.10 L782.64,767.47 L782.35,770.68 L782.05,773.74 L781.76,776.65 L781.47,779.44 L781.18,782.09 L780.88,784.62 L780.59,787.05 L780.30,789.36 L780.00,791.57 L779.71,793.69 L779.42,795.71 L779.13,797.65 L778.83,799.51 L778.54,801.29 L778.25,803.00 L777.95,804.64 L777.66,806.21 L777.37,807.72 L777.08,809.17 L776.78,810.57 L776.49,811.91 L776.20,813.20 L775.90,814.44 L775.61,815.64 L775.32,816.79 L775.03,817.90 L774.73,818.97 L774.44,820.00 L774.15,821.00 L773.86,821.96 L773.56,822.89 L773.27,823.79 L772.98,824.65 L772.68,825.49 L772.39,826.30 L772.10,827.08 L771.81,827.84 L771.51,828.58 L771.22,829.29 L770.93,829.97 L770.63,830.64 L770.34,831.29 L770.05,831.92 L769.76,832.52 L769.46,833.11 L769.17,833.69 L768.88,834.24 L768.58,834.78 L768.29,835.31 L768.00,835.82 L767.71,836.31 L767.41,836.79 L767.12,837.26 L766.83,837.72 L766.53,838.16 L766.24,838.59 L765.95,839.01 L765.66,839.42 L765.36,839.82 L765.07,840.21 L764.78,840.59 L764.48,840.95 L764.19,841.31 L763.90,841.66 L763.61,842.00 L763.31,842.34 L763.02,842.66 L762.73,842.98 L762.44,843.29 L762.14,843.59 L761.85,843.88 L761.56,844.17 L761.26,844.45 L760.97,844.73 L760.68,845.00 L760.39,845.26 L760.09,845.52 L759.80,845.77 L759.51,846.01 L759.21,846.25 L758.92,846.49 L758.63,846.72 L758.34,846.94 L758.04,847.16 L757.75,847.38 L757.46,847.59 L757.16,847.79 L756.87,847.99 L756.58,848.19 L756.29,848.38 L755.99,848.57 L755.70,848.76 L755.41,848.94 L755.11,849.12 L754.82,849.30 L754.53,849.47 L754.24,849.64 L753.94,849.80 L753.65,849.96 L753.36,850.12 L753.06,850.28 L752.77,850.43 L752.48,850.58 L752.19,850.72 L751.89,850.87 L751.60,851.01 L751.31,851.15 L751.02,851.29 L750.72,851.42 L750.43,851.55 L750.14,851.68 L749.84,851.81 L749.55,851.93 L749.26,852.05 L748.97,852.17 L748.67,852.29 L748.38,852.41 L748.09,852.52 L747.79,852.63 L747.50,852.74 L747.21,852.85 L746.92,852.95 L746.62,853.06 L746.33,853.16 L746.04,853.26 L745.74,853.36 L745.45,853.46 L745.16,853.55 L744.87,853.65 L744.57,853.74 L744.28,853.83 L743.99,853.92 L743.69,854.01 L743.40,854.09 L743.11,854.18 L742.82,854.26 L742.52,854.34 L742.23,854.43 L741.94,854.51 L741.64,854.58 L741.35,854.66 L741.06,854.74 L740.77,854.81 L740.47,854.88 L740.18,854.96 L739.89,855.03 L739.60,855.10 L739.30,855.17 L739.01,855.23 L738.72,855.30 L738.42,855.37 L738.13,855.43 L737.84,855.49 L737.55,855.56 L737.25,855.62 L736.96,855.68 L736.67,855.74 L736.37,855.80 L736.08,855.85 L735.79,855.91 L735.50,855.97 L735.20,856.02 L734.91,856.07 L734.62,856.13 L734.32,856.18 L734.03,856.23 L733.74,856.28 L733.45,856.33 L733.15,856.38 L732.86,856.43 L732.57,856.48 L732.27,856.52 L731.98,856.57 L731.69,856.61 L731.40,856.66 L731.10,856.70 L730.81,856.75 L730.52,856.79 L730.22,856.83 L729.93,856.87 L729.64,856.91 L729.35,856.95 L729.05,856.99 L728.76,857.03 L728.47,857.06 L728.18,857.10 L727.88,857.14 L727.59,857.17 L727.30,857.21 L727.00,857.24 L726.71,857.28 L726.42,857.31 L726.13,857.34 L725.83,857.37 L725.54,857.41 L725.25,857.44 L724.95,857.47 L724.66,857.50 L724.37,857.53 L724.08,857.55 L723.78,857.58 L723.49,857.61 L723.20,857.64 L722.90,857.66 L722.61,857.69 L722.32,857.72 L722.03,857.74 L721.73,857.76 L721.44,857.79 L721.15,857.81 L720.85,857.83 L720.56,857.86 L720.27,857.88 L719.98,857.90 L719.68,857.92 L719.39,857.94 L719.10,857.96 L718.81,857.98 L718.51,858.00 L718.22,858.02 L717.93,858.04 L717.63,858.05 L717.34,858.07 L717.05,858.09 L716.76,858.10 L716.46,858.12 L716.17,858.13 L715.88,858.15 L715.58,858.16 L715.29,858.18 L715.00,858.19 L714.71,858.20 L714.41,858.22 L714.12,858.23 L713.83,858.24 L713.53,858.25 L713.24,858.26 L712.95,858.27 L712.66,858.28 L712.36,858.29 L712.07,858.30 L711.78,858.31 L711.48,858.31 L711.19,858.32 L710.90,858.33 L710.61,858.34 L710.31,858.34 L710.02,858.35 L709.73,858.35 L709.43,858.36 L709.14,858.36 L708.85,858.37 L708.56,858.37 L708.26,858.37 L707.97,858.37 L707.68,858.38 L707.39,858.38 L707.09,858.38 L706.80,858.38 L706.51,858.38" fill="none" stroke="#0000ff" stroke-width="1.75" stroke-dasharray="6.0 8.7" stroke-dashoffset="8.20"/>
<path clip-path="url(#c3)" d="M794.94,441.06 L795.23,441.06 L795.52,441.06 L795.82,441.22 L796.11,444.44 L796.40,449.15 L796.70,455.21 L796.99,462.51 L797.28,470.90 L797.57,480.22 L797.87,490.31 L798.16,501.00 L798.45,512.13 L798.74,523.57 L799.04,535.18 L799.33,546.83 L799.62,558.43 L799.92,569.90 L800.21,581.15 L800.50,592.13 L800.79,602.80 L801.09,613.11 L801.38,623.05 L801.67,632.60 L801.97,641.75 L802.26,650.50 L802.55,658.84 L802.84,666.79 L803.14,674.35 L803.43,681.53 L803.72,688.34 L804.02,694.81 L804.31,700.94 L804.60,706.74 L804.89,712.24 L805.19,717.44 L805.48,722.36 L805.77,727.02 L806.07,731.42 L806.36,735.59 L806.65,739.53 L806.94,743.26 L807.24,746.78 L807.53,750.11 L807.82,753.26 L808.12,756.24 L808.41,759.05 L808.70,761.71 L808.99,764.22 L809.29,766.60 L809.58,768.84 L809.87,770.96 L810.16,772.96 L810.46,774.84 L810.75,776.62 L811.04,778.30 L811.34,779.87 L811.63,781.36 L811.92,782.75 L812.21,784.06 L812.51,785.29 L812.80,786.44 L813.09,787.51 L813.39,788.51 L813.68,789.45 L813.97,790.31 L814.26,791.11 L814.56,791.84 L814.85,792.52 L815.14,793.13 L815.44,793.69 L815.73,794.19 L816.02,794.64 L816.31,795.03 L816.61,795.37 L816.90,795.66 L817.19,795.89 L817.49,796.08 L817.78,796.21 L818.07,796.30 L818.36,796.33 L818.66,796.32 L818.95,796.25 L819.24,796.14 L819.54,795.98 L819.83,795.77 L820.12,795.51 L820.41,795.20 L820.71,794.83 L821.00,794.42 L821.29,793.95" fill="none" stroke="#0000ff" stroke-width="1.75" stroke-dasharray="6.6 9.0 8.0 9.3 5.7 8.7 6.0 8.7 6.0 8.7 6.0 8.7 6.0 8.7 6.0 8.7 6.0 8.7 6.0 8.7 6.0 8.7 6.0 8.7 6.0 8.7 6.0 8.7 6.0 8.7 6.0 8.7 6.0 8.7 6.0 8.7 6.0 8.7 6.0 8.7 6.0 8.7 6.0 8.7 6.0 8.7 6.0 8.7 6.0 8.7 6.0 8.7 6.0 8.7 6.0 8.7 6.0 8.7 6.0 8.7 6.0 8.7 6.0 8.7 6.0 8.7 6.0 8.7 6.0 8.7 6.0 8.7 6.0 8.7 6.0 8.7 6.0 8.7 6.0 8.7 6.0 8.7 6.0 8.7 6.0 8.7 6.0 8.7 6.0 8.7 6.0 8.7 6.0 8.7 6.0 8.7"/>
<path clip-path="url(#c3)" d="M469.91,793.95 L470.20,794.42 L470.49,794.83 L470.79,795.20 L471.08,795.51 L471.37,795.77 L471.66,795.98 L471.96,796.14 L472.25,796.25 L472.54,796.32 L472.84,796.33 L473.13,796.30 L473.42,796.21 L473.71,796.08 L474.01,795.89 L474.30,795.66 L474.59,795.37 L474.89,795.03 L475.18,794.64 L475.47,794.19 L475.76,793.69 L476.06,793.13 L476.35,792.52 L476.64,791.84 L476.94,791.11 L477.23,790.31 L477.52,789.45 L477.81,788.51 L478.11,787.51 L478.40,786.44 L478.69,785.29 L478.99,784.06 L479.28,782.75 L479.57,781.36 L479.86,779.87 L480.16,778.30 L480.45,776.62 L480.74,774.84 L481.04,772.96 L481.33,770.96 L481.62,768.84 L481.91,766.60 L482.21,764.22 L482.50,761.71 L482.79,759.05 L483.08,756.24 L483.38,753.26 L483.67,750.11 L483.96,746.78 L484.26,743.26 L484.55,739.53 L484.84,735.59 L485.13,731.42 L485.43,727.02 L485.72,722.36 L486.01,717.44 L486.31,712.24 L486.60,706.74 L486.89,700.94 L487.18,694.81 L487.48,688.34 L487.77,681.53 L488.06,674.35 L488.36,666.79 L488.65,658.84 L488.94,650.50 L489.23,641.75 L489.53,632.60 L489.82,623.05 L490.11,613.11 L490.41,602.80 L490.70,592.13 L490.99,581.15 L491.28,569.90 L491.58,558.43 L491.87,546.83 L492.16,535.18 L492.46,523.57 L492.75,512.13 L493.04,501.00 L493.33,490.31 L493.63,480.22 L493.92,470.90 L494.21,462.51 L494.50,455.21 L494.80,449.15 L495.09,444.44 L495.38,441.22 L495.68,439.53 L495.97,439.44 L496.26,440.93 L496.55,443.99 L496.85,448.55 L497.14,454.50 L497.43,461.73 L497.73,470.08 L498.02,479.41 L498.31,489.55 L498.60,500.34 L498.90,511.62 L499.19,523.24 L499.48,535.06 L499.78,546.97 L500.07,558.85 L500.36,570.61 L500.65,582.19 L500.95,593.51 L501.24,604.52 L501.53,615.20 L501.83,625.51 L502.12,635.43 L502.41,644.95 L502.70,654.08 L503.00,662.81 L503.29,671.14 L503.58,679.08 L503.88,686.64 L504.17,693.84 L504.46,700.69 L504.75,707.20 L505.05,713.38 L505.34,719.26 L505.63,724.84 L505.92,730.14 L506.22,735.17 L506.51,739.96 L506.80,744.51 L507.10,748.83 L507.39,752.94 L507.68,756.84 L507.97,760.56 L508.27,764.10 L508.56,767.47 L508.85,770.68 L509.15,773.74 L509.44,776.65 L509.73,779.44 L510.02,782.09 L510.32,784.62 L510.61,787.05 L510.90,789.36 L511.20,791.57 L511.49,793.69 L511.78,795.71 L512.07,797.65 L512.37,799.51 L512.66,801.29 L512.95,803.00 L513.25,804.64 L513.54,806.21 L513.83,807.72 L514.12,809.17 L514.42,810.57 L514.71,811.91 L515.00,813.20 L515.30,814.44 L515.59,815.64 L515.88,816.79 L516.17,817.90 L516.47,818.97 L516.76,820.00 L517.05,821.00 L517.34,821.96 L517.64,822.89 L517.93,823.79 L518.22,824.65 L518.52,825.49 L518.81,826.30 L519.10,827.08 L519.39,827.84 L519.69,828.58 L519.98,829.29 L520.27,829.97 L520.57,830.64 L520.86,831.29 L521.15,831.92 L521.44,832.52 L521.74,833.11 L522.03,833.69 L522.32,834.24 L522.62,834.78 L522.91,835.31 L523.20,835.82 L523.49,836.31 L523.79,836.79 L524.08,837.26 L524.37,837.72 L524.67,838.16 L524.96,838.59 L525.25,839.01 L525.54,839.42 L525.84,839.82 L526.13,840.21 L526.42,840.59 L526.72,840.95 L527.01,841.31 L527.30,841.66 L527.59,842.00 L527.89,842.34 L528.18,842.66 L528.47,842.98 L528.76,843.29 L529.06,843.59 L529.35,843.88 L529.64,844.17 L529.94,844.45 L530.23,844.73 L530.52,845.00 L530.81,845.26 L531.11,845.52 L531.40,845.77 L531.69,846.01 L531.99,846.25 L532.28,846.49 L532.57,846.72 L532.86,846.94 L533.16,847.16 L533.45,847.38 L533.74,847.59 L534.04,847.79 L534.33,847.99 L534.62,848.19 L534.91,848.38 L535.21,848.57 L535.50,848.76 L535.79,848.94 L536.09,849.12 L536.38,849.30 L536.67,849.47 L536.96,849.64 L537.26,849.80 L537.55,849.96 L537.84,850.12 L538.14,850.28 L538.43,850.43 L538.72,850.58 L539.01,850.72 L539.31,850.87 L539.60,851.01 L539.89,851.15 L540.18,851.29 L540.48,851.42 L540.77,851.55 L541.06,851.68 L541.36,851.81 L541.65,851.93 L541.94,852.05 L542.23,852.17 L542.53,852.29 L542.82,852.41 L543.11,852.52 L543.41,852.63 L543.70,852.74 L543.99,852.85 L544.28,852.95 L544.58,853.06 L544.87,853.16 L545.16,853.26 L545.46,853.36 L545.75,853.46 L546.04,853.55 L546.33,853.65 L546.63,853.74 L546.92,853.83 L547.21,853.92 L547.51,854.01 L547.80,854.09 L548.09,854.18 L548.38,854.26 L548.68,854.34 L548.97,854.43 L549.26,854.51 L549.56,854.58 L549.85,854.66 L550.14,854.74 L550.43,854.81 L550.73,854.88 L551.02,854.96 L551.31,855.03 L551.60,855.10 L551.90,855.17 L552.19,855.23 L552.48,855.30 L552.78,855.37 L553.07,855.43 L553.36,855.49 L553.65,855.56 L553.95,855.62 L554.24,855.68 L554.53,855.74 L554.83,855.80 L555.12,855.85 L555.41,855.91 L555.70,855.97 L556.00,856.02 L556.29,856.07 L556.58,856.13 L556.88,856.18 L557.17,856.23 L557.46,856.28 L557.75,856.33 L558.05,856.38 L558.34,856.43 L558.63,856.48 L558.93,856.52 L559.22,856.57 L559.51,856.61 L559.80,856.66 L560.10,856.70 L560.39,856.75 L560.68,856.79 L560.98,856.83 L561.27,856.87 L561.56,856.91 L561.85,856.95 L562.15,856.99 L562.44,857.03 L562.73,857.06 L563.02,857.10 L563.32,857.14 L563.61,857.17 L563.90,857.21 L564.20,857.24 L564.49,857.28 L564.78,857.31 L565.07,857.34 L565.37,857.37 L565.66,857.41 L565.95,857.44 L566.25,857.47 L566.54,857.50 L566.83,857.53 L567.12,857.55 L567.42,857.58 L567.71,857.61 L568.00,857.64 L568.30,857.66 L568.59,857.69 L568.88,857.72 L569.17,857.74 L569.47,857.76 L569.76,857.79 L570.05,857.81 L570.35,857.83 L570.64,857.86 L570.93,857.88 L571.22,857.90 L571.52,857.92 L571.81,857.94 L572.10,857.96 L572.39,857.98 L572.69,858.00 L572.98,858.02 L573.27,858.04 L573.57,858.05 L573.86,858.07 L574.15,858.09 L574.44,858.10 L574.74,858.12 L575.03,858.13 L575.32,858.15 L575.62,858.16 L575.91,858.18 L576.20,858.19 L576.49,858.20 L576.79,858.22 L577.08,858.23 L577.37,858.24 L577.67,858.25 L577.96,858.26 L578.25,858.27 L578.54,858.28 L578.84,858.29 L579.13,858.30 L579.42,858.31 L579.72,858.31 L580.01,858.32 L580.30,858.33 L580.59,858.34 L580.89,858.34 L581.18,858.35 L581.47,858.35 L581.77,858.36 L582.06,858.36 L582.35,858.37 L582.64,858.37 L582.94,858.37 L583.23,858.37 L583.52,858.38 L583.81,858.38 L584.11,858.38 L584.40,858.38 L584.69,858.38 L584.99,858.38 L585.28,858.38 L585.57,858.38 L585.86,858.38 L586.16,858.38 L586.45,858.37 L586.74,858.37 L587.04,858.37 L587.33,858.36 L587.62,858.36 L587.91,858.35 L588.21,858.35 L588.50,858.34 L588.79,858.34 L589.09,858.33 L589.38,858.32 L589.67,858.31 L589.96,858.31 L590.26,858.30 L590.55,858.29 L590.84,858.28 L591.14,858.27 L591.43,858.26 L591.72,858.25 L592.01,858.23 L592.31,858.22 L592.60,858.21 L592.89,858.19 L593.19,858.18 L593.48,858.17 L593.77,858.15 L594.06,858.14 L594.36,858.12 L594.65,858.10 L594.94,858.08 L595.23,858.07 L595.53,858.05 L595.82,858.03 L596.11,858.01 L596.41,857.99 L596.70,857.97 L596.99,857.95 L597.28,857.92 L597.58,857.90 L597.87,857.88 L598.16,857.85 L598.46,857.83 L598.75,857.80 L599.04,857.78 L599.33,857.75 L599.63,857.72 L599.92,857.69 L600.21,857.66 L600.51,857.63 L600.80,857.60 L601.09,857.57 L601.38,857.54 L601.68,857.51 L601.97,857.47 L602.26,857.44 L602.56,857.40 L602.85,857.37 L603.14,857.33 L603.43,857.29 L603.73,857.25 L604.02,857.22 L604.31,857.17 L604.61,857.13 L604.90,857.09 L605.19,857.05 L605.48,857.00 L605.78,856.96 L606.07,856.91 L606.36,856.87 L606.65,856.82 L606.95,856.77 L607.24,856.72 L607.53,856.67 L607.83,856.61 L608.12,856.56 L608.41,856.51 L608.70,856.45 L609.00,856.39 L609.29,856.34 L609.58,856.28 L609.88,856.22 L610.17,856.15 L610.46,856.09 L610.75,856.03 L611.05,855.96 L611.34,855.89 L611.63,855.82 L611.93,855.75 L612.22,855.68 L612.51,855.61 L612.80,855.53 L613.10,855.46 L613.39,855.38 L613.68,855.30 L613.98,855.22 L614.27,855.14 L614.56,855.05 L614.85,854.96 L615.15,854.88 L615.44,854.79 L615.73,854.69 L616.03,854.60 L616.32,854.50 L616.61,854.41 L616.90,854.31 L617.20,854.20 L617.49,854.10 L617.78,853.99 L618.07,853.88 L618.37,853.77 L618.66,853.66 L618.95,853.54 L619.25,853.42 L619.54,853.30 L619.83,853.18 L620.12,853.05 L620.42,852.92 L620.71,852.79 L621.00,852.65 L621.30,852.51 L621.59,852.37 L621.88,852.22 L622.17,852.08 L622.47,851.92 L622.76,851.77 L623.05,851.61 L623.35,851.45 L623.64,851.28 L623.93,851.11 L624.22,850.93 L624.52,850.76 L624.81,850.57 L625.10,850.39 L625.40,850.19 L625.69,850.00 L625.98,849.80 L626.27,849.59 L626.57,849.38 L626.86,849.16 L627.15,848.94 L627.45,848.71 L627.74,848.48 L628.03,848.24 L628.32,847.99 L628.62,847.74 L628.91,847.48 L629.20,847.22 L629.49,846.95 L629.79,846.67 L630.08,846.38 L630.37,846.09 L630.67,845.78 L630.96,845.47 L631.25,845.15 L631.54,844.83 L631.84,844.49 L632.13,844.14 L632.42,843.79 L632.72,843.42 L633.01,843.04 L633.30,842.65 L633.59,842.25 L633.89,841.84 L634.18,841.42 L634.47,840.98 L634.77,840.53 L635.06,840.07 L635.35,839.59 L635.64,839.10 L635.94,838.59 L636.23,838.07 L636.52,837.53 L636.82,836.97 L637.11,836.39 L637.40,835.80 L637.69,835.18 L637.99,834.55 L638.28,833.89 L638.57,833.21 L638.87,832.51 L639.16,831.78 L639.45,831.03 L639.74,830.25 L640.04,829.45 L640.33,828.61 L640.62,827.75 L640.91,826.85 L641.21,825.92 L641.50,824.95 L641.79,823.95 L642.09,822.91 L642.38,821.82 L642.67,820.70 L642.96,819.53 L643.26,818.31 L643.55,817.05 L643.84,815.73 L644.14,814.36 L644.43,812.93 L644.72,811.44 L645.01,809.89 L645.31,808.27 L645.60,806.58 L645.89,804.82 L646.19,802.97 L646.48,801.04 L646.77,799.03 L647.06,796.92 L647.36,794.72 L647.65,792.41 L647.94,789.99 L648.24,787.45 L648.53,784.79 L648.82,782.00 L649.11,779.08 L649.41,776.00 L649.70,772.77 L649.99,769.38 L650.29,765.81 L650.58,762.06 L650.87,758.12 L651.16,753.97 L651.46,749.60 L651.75,744.99 L652.04,740.15 L652.33,735.04 L652.63,729.67 L652.92,724.01 L653.21,718.04 L653.51,711.76 L653.80,705.15 L654.09,698.20 L654.38,690.88 L654.68,683.19 L654.97,675.13 L655.26,666.67 L655.56,657.81 L655.85,648.55 L656.14,638.90 L656.43,628.86 L656.73,618.44 L657.02,607.66 L657.31,596.57 L657.61,585.20 L657.90,573.61 L658.19,561.87 L658.48,550.07 L658.78,538.29 L659.07,526.67 L659.36,515.32 L659.66,504.40 L659.95,494.05 L660.24,484.44 L660.53,475.74 L660.83,468.09 L661.12,461.66 L661.41,456.57 L661.71,452.94 L662.00,450.85 L662.29,450.34 L662.58,451.43 L662.88,454.09 L663.17,458.26 L663.46,463.85 L663.75,470.75 L664.05,478.80 L664.34,487.85 L664.63,497.75 L664.93,508.32 L665.22,519.42 L665.51,530.88 L665.80,542.58 L666.10,554.38 L666.39,566.17 L666.68,577.87 L666.98,589.39 L667.27,600.66 L667.56,611.64 L667.85,622.29 L668.15,632.58 L668.44,642.48 L668.73,651.99 L669.03,661.11 L669.32,669.82 L669.61,678.14 L669.90,686.07 L670.20,693.62 L670.49,700.80 L670.78,707.63 L671.08,714.12 L671.37,720.29 L671.66,726.14 L671.95,731.70 L672.25,736.98 L672.54,741.99 L672.83,746.74 L673.13,751.26 L673.42,755.55 L673.71,759.63 L674.00,763.50 L674.30,767.19 L674.59,770.69 L674.88,774.02 L675.17,777.19 L675.47,780.22 L675.76,783.09 L676.05,785.84 L676.35,788.45 L676.64,790.94 L676.93,793.32 L677.22,795.60 L677.52,797.77 L677.81,799.84 L678.10,801.83 L678.40,803.72 L678.69,805.54 L678.98,807.28 L679.27,808.94 L679.57,810.54 L679.86,812.07 L680.15,813.54 L680.45,814.95 L680.74,816.30 L681.03,817.60 L681.32,818.85 L681.62,820.05 L681.91,821.20 L682.20,822.31 L682.50,823.38 L682.79,824.41 L683.08,825.40 L683.37,826.36 L683.67,827.28 L683.96,828.16 L684.25,829.02 L684.55,829.85 L684.84,830.65 L685.13,831.42 L685.42,832.16 L685.72,832.88 L686.01,833.57 L686.30,834.25 L686.59,834.90 L686.89,835.53 L687.18,836.13 L687.47,836.72 L687.77,837.29 L688.06,837.85 L688.35,838.38 L688.64,838.90 L688.94,839.41 L689.23,839.90 L689.52,840.37 L689.82,840.83 L690.11,841.28 L690.40,841.71 L690.69,842.13 L690.99,842.54 L691.28,842.94 L691.57,843.32 L691.87,843.70 L692.16,844.06 L692.45,844.42 L692.74,844.76 L693.04,845.10 L693.33,845.42 L693.62,845.74 L693.92,846.05 L694.21,846.35 L694.50,846.65 L694.79,846.93 L695.09,847.21 L695.38,847.48 L695.67,847.74 L695.97,848.00 L696.26,848.25 L696.55,848.50 L696.84,848.74 L697.14,848.97 L697.43,849.20 L697.72,849.42 L698.01,849.64 L698.31,849.85 L698.60,850.05 L698.89,850.26 L699.19,850.45 L699.48,850.64 L699.77,850.83 L700.06,851.02 L700.36,851.19 L700.65,851.37 L700.94,851.54 L701.24,851.71 L701.53,851.87 L701.82,852.03 L702.11,852.19 L702.41,852.34 L702.70,852.49 L702.99,852.63 L703.29,852.78 L703.58,852.92 L703.87,853.05 L704.16,853.19 L704.46,853.32 L704.75,853.45 L705.04,853.57 L705.34,853.70 L705.63,853.82 L705.92,853.93 L706.21,854.05 L706.51,854.16 L706.80,854.27 L707.09,854.38 L707.39,854.49 L707.68,854.59 L707.97,854.69 L708.26,854.79 L708.56,854.89 L708.85,854.99 L709.14,855.08 L709.43,855.17 L709.73,855.26 L710.02,855.35 L710.31,855.44 L710.61,855.52 L710.90,855.60 L711.19,855.69 L711.48,855.77 L711.78,855.84 L712.07,855.92 L712.36,856.00 L712.66,856.07 L712.95,856.14 L713.24,856.21 L713.53,856.28 L713.83,856.35 L714.12,856.42 L714.41,856.48 L714.71,856.55 L715.00,856.61 L715.29,856.67 L715.58,856.73 L715.88,856.79 L716.17,856.85 L716.46,856.91 L716.76,856.96 L717.05,857.02 L717.34,857.07 L717.63,857.13 L717.93,857.18 L718.22,857.23 L718.51,857.28 L718.81,857.33 L719.10,857.38 L719.39,857.42 L719.68,857.47 L719.98,857.51 L720.27,857.56 L720.56,857.60 L720.85,857.64 L721.15,857.69 L721.44,857.73 L721.73,857.77 L722.03,857.81 L722.32,857.84 L722.61,857.88 L722.90,857.92 L723.20,857.95 L723.49,857.99 L723.78,858.02 L724.08,858.06 L724.37,858.09 L724.66,858.12 L724.95,858.16 L725.25,858.19 L725.54,858.22 L725.83,858.25 L726.13,858.28 L726.42,858.31 L726.71,858.33 L727.00,858.36 L727.30,858.39 L727.59,858.41 L727.88,858.44 L728.18,858.47 L728.47,858.49 L728.76,858.51 L729.05,858.54 L729.35,858.56 L729.64,858.58 L729.93,858.60 L730.22,858.62 L730.52,858.65 L730.81,858.67 L731.10,858.68 L731.40,858.70 L731.69,858.72 L731.98,858.74 L732.27,858.76 L732.57,858.78 L732.86,858.79 L733.15,858.81 L733.45,858.82 L733.74,858.84 L734.03,858.85 L734.32,858.87 L734.62,858.88 L734.91,858.90 L735.20,858.91 L735.50,858.92 L735.79,858.93 L736.08,858.94 L736.37,858.96 L736.67,858.97 L736.96,858.98 L737.25,858.99 L737.55,859.00 L737.84,859.01 L738.13,859.01 L738.42,859.02 L738.72,859.03 L739.01,859.04 L739.30,859.05 L739.60,859.05 L739.89,859.06 L740.18,859.06 L740.47,859.07 L740.77,859.08 L741.06,859.08 L741.35,859.08 L741.64,859.09 L741.94,859.09 L742.23,859.10 L742.52,859.10 L742.82,859.10 L743.11,859.10 L743.40,859.11 L743.69,859.11 L743.99,859.11 L744.28,859.11 L744.57,859.11 L744.87,859.11 L745.16,859.11 L745.45,859.11 L745.74,859.11 L746.04,859.11 L746.33,859.11 L746.62,859.10 L746.92,859.10 L747.21,859.10 L747.50,859.10 L747.79,859.09 L748.09,859.09 L748.38,859.09 L748.67,859.08 L748.97,859.08 L749.26,859.07 L749.55,859.07 L749.84,859.06 L750.14,859.05 L750.43,859.05 L750.72,859.04 L751.02,859.03 L751.31,859.03 L751.60,859.02 L751.89,859.01 L752.19,859.00 L752.48,858.99 L752.77,858.98 L753.06,858.97 L753.36,858.97 L753.65,858.96 L753.94,858.94 L754.24,858.93 L754.53,858.92 L754.82,858.91 L755.11,858.90 L755.41,858.89 L755.70,858.87 L755.99,858.86 L756.29,858.85 L756.58,858.83 L756.87,858.82 L757.16,858.81 L757.46,858.79 L757.75,858.78 L758.04,858.76 L758.34,858.75 L758.63,858.73 L758.92,858.71 L759.21,858.70 L759.51,858.68 L759.80,858.66 L760.09,858.64 L760.39,858.63 L760.68,858.61 L760.97,858.59 L761.26,858.57 L761.56,858.55 L761.85,858.53 L762.14,858.51 L762.44,858.49 L762.73,858.47 L763.02,858.44 L763.31,858.42 L763.61,858.40 L763.90,858.38 L764.19,858.35 L764.48,858.33 L764.78,858.31 L765.07,858.28 L765.36,858.26 L765.66,858.23 L765.95,858.20 L766.24,858.18 L766.53,858.15 L766.83,858.12 L767.12,858.10 L767.41,858.07 L767.71,858.04 L768.00,858.01 L768.29,857.98 L768.58,857.95 L768.88,857.92 L769.17,857.89 L769.46,857.86 L769.76,857.83 L770.05,857.80 L770.34,857.76 L770.63,857.73 L770.93,857.70 L771.22,857.66 L771.51,857.63 L771.81,857.59 L772.10,857.55 L772.39,857.52 L772.68,857.48 L772.98,857.44 L773.27,857.41 L773.56,857.37 L773.86,857.33 L774.15,857.29 L774.44,857.25 L774.73,857.21 L775.03,857.17 L775.32,857.12 L775.61,857.08 L775.90,857.04 L776.20,856.99 L776.49,856.95 L776.78,856.90 L777.08,856.86 L777.37,856.81 L777.66,856.76 L777.95,856.72 L778.25,856.67 L778.54,856.62 L778.83,856.57 L779.13,856.52 L779.42,856.47 L779.71,856.41 L780.00,856.36 L780.30,856.31 L780.59,856.25 L780.88,856.20 L781.18,856.14 L781.47,856.08 L781.76,856.03 L782.05,855.97 L782.35,855.91 L782.64,855.85 L782.93,855.79 L783.23,855.72 L783.52,855.66 L783.81,855.60 L784.10,855.53 L784.40,855.46 L784.69,855.40 L784.98,855.33 L785.28,855.26 L785.57,855.19 L785.86,855.12 L786.15,855.05 L786.45,854.97 L786.74,854.90 L787.03,854.82 L787.32,854.75 L787.62,854.67 L787.91,854.59 L788.20,854.51 L788.50,854.43 L788.79,854.35 L789.08,854.26 L789.37,854.18 L789.67,854.09 L789.96,854.00 L790.25,853.91 L790.55,853.82 L790.84,853.73 L791.13,853.64 L791.42,853.54 L791.72,853.44 L792.01,853.34 L792.30,853.24 L792.60,853.14 L792.89,853.04 L793.18,852.93 L793.47,852.83 L793.77,852.72 L794.06,852.61 L794.35,852.50 L794.65,852.38 L794.94,852.27 L795.23,852.15 L795.52,852.03 L795.82,851.91 L796.11,851.78 L796.40,851.65 L796.70,851.53 L796.99,851.39 L797.28,851.26 L797.57,851.12 L797.87,850.99 L798.16,850.85 L798.45,850.70 L798.74,850.56 L799.04,850.41 L799.33,850.26 L799.62,850.10 L799.92,849.94 L800.21,849.78 L800.50,849.62 L800.79,849.45 L801.09,849.28 L801.38,849.11 L801.67,848.93 L801.97,848.75 L802.26,848.57 L802.55,848.38 L802.84,848.19 L803.14,848.00 L803.43,847.80 L803.72,847.60 L804.02,847.39 L804.31,847.18 L804.60,846.96 L804.89,846.74 L805.19,846.52 L805.48,846.29 L805.77,846.05 L806.07,845.81 L806.36,845.56 L806.65,845.31 L806.94,845.06 L807.24,844.79 L807.53,844.53 L807.82,844.25 L808.12,843.97 L808.41,843.68 L808.70,843.39 L808.99,843.09 L809.29,842.78 L809.58,842.46 L809.87,842.14 L810.16,841.81 L810.46,841.47 L810.75,841.12 L811.04,840.76 L811.34,840.40 L811.63,840.02 L811.92,839.64 L812.21,839.24 L812.51,838.83 L812.80,838.42 L813.09,837.99 L813.39,837.55 L813.68,837.10 L813.97,836.63 L814.26,836.16 L814.56,835.67 L814.85,835.16 L815.14,834.64 L815.44,834.11 L815.73,833.56 L816.02,832.99 L816.31,832.41 L816.61,831.81 L816.90,831.19 L817.19,830.55 L817.49,829.89 L817.78,829.21 L818.07,828.51 L818.36,827.78 L818.66,827.04 L818.95,826.26 L819.24,825.47 L819.54,824.64 L819.83,823.79 L820.12,822.91 L820.41,821.99 L820.71,821.05 L821.00,820.07 L821.29,819.05" fill="none" stroke="#ff0000" stroke-width="1.6" stroke-linejoin="round"/>
<path d="M168.79,97.30V105.30M168.79,305.50V297.50M212.18,97.30V113.70M212.18,305.50V289.10M255.56,97.30V105.30M255.56,305.50V297.50M298.95,97.30V113.70M298.95,305.50V289.10M342.34,97.30V105.30M342.34,305.50V297.50M385.73,97.30V113.70M385.73,305.50V289.10M429.11,97.30V105.30M429.11,305.50V297.50M472.50,97.30V113.70M472.50,305.50V289.10M515.89,97.30V105.30M515.89,305.50V297.50M559.27,97.30V113.70M559.27,305.50V289.10M602.66,97.30V105.30M602.66,305.50V297.50M646.05,97.30V113.70M646.05,305.50V289.10M689.44,97.30V105.30M689.44,305.50V297.50M732.83,97.30V113.70M732.83,305.50V289.10M776.21,97.30V105.30M776.21,305.50V297.50M125.40,292.49H133.40M819.60,292.49H811.60M125.40,279.48H141.80M819.60,279.48H803.20M125.40,266.46H133.40M819.60,266.46H811.60M125.40,253.45H141.80M819.60,253.45H803.20M125.40,240.44H133.40M819.60,240.44H811.60M125.40,227.43H141.80M819.60,227.43H803.20M125.40,214.41H133.40M819.60,214.41H811.60M125.40,201.40H141.80M819.60,201.40H803.20M125.40,188.39H133.40M819.60,188.39H811.60M125.40,175.38H141.80M819.60,175.38H803.20M125.40,162.36H133.40M819.60,162.36H811.60M125.40,149.35H141.80M819.60,149.35H803.20M125.40,136.34H133.40M819.60,136.34H811.60M125.40,123.33H141.80M819.60,123.33H803.20M125.40,110.31H133.40M819.60,110.31H811.60" fill="none" stroke="#000" stroke-width="2.8"/>
<rect x="125.4" y="97.3" width="694.2" height="208.2" fill="none" stroke="#000" stroke-width="2.8"/>
<path d="M141.70,349.50V367.82M141.70,869.00V850.67M181.09,349.50V358.62M181.09,869.00V859.88M220.47,349.50V367.82M220.47,869.00V850.67M259.86,349.50V358.62M259.86,869.00V859.88M299.25,349.50V367.82M299.25,869.00V850.67M338.64,349.50V358.62M338.64,869.00V859.88M378.02,349.50V367.82M378.02,869.00V850.67M417.41,349.50V358.62M417.41,869.00V859.88M456.80,349.50V367.82M456.80,869.00V850.67M479.23,349.50V358.62M479.23,869.00V859.88M512.50,349.50V367.82M512.50,869.00V850.67M545.78,349.50V358.62M545.78,869.00V859.88M579.05,349.50V367.82M579.05,869.00V850.67M612.33,349.50V358.62M612.33,869.00V859.88M645.60,349.50V367.82M645.60,869.00V850.67M678.88,349.50V358.62M678.88,869.00V859.88M712.15,349.50V367.82M712.15,869.00V850.67M745.42,349.50V358.62M745.42,869.00V859.88M778.70,349.50V367.82M778.70,869.00V850.67M811.98,349.50V358.62M811.98,869.00V859.88M125.80,836.53H134.93M818.80,836.53H809.67M463.50,836.53H481.50M125.80,804.06H144.12M818.80,804.06H800.47M454.30,804.06H490.70M125.80,771.59H134.93M818.80,771.59H809.67M463.50,771.59H481.50M125.80,739.12H144.12M818.80,739.12H800.47M454.30,739.12H490.70M125.80,706.66H134.93M818.80,706.66H809.67M463.50,706.66H481.50M125.80,674.19H144.12M818.80,674.19H800.47M454.30,674.19H490.70M125.80,641.72H134.93M818.80,641.72H809.67M463.50,641.72H481.50M125.80,609.25H144.12M818.80,609.25H800.47M454.30,609.25H490.70M125.80,576.78H134.93M818.80,576.78H809.67M463.50,576.78H481.50M125.80,544.31H144.12M818.80,544.31H800.47M454.30,544.31H490.70M125.80,511.84H134.93M818.80,511.84H809.67M463.50,511.84H481.50M125.80,479.38H144.12M818.80,479.38H800.47M454.30,479.38H490.70M125.80,446.91H134.93M818.80,446.91H809.67M463.50,446.91H481.50M125.80,414.44H144.12M818.80,414.44H800.47M454.30,414.44H490.70M125.80,381.97H134.93M818.80,381.97H809.67M463.50,381.97H481.50" fill="none" stroke="#000" stroke-width="3.1"/>
<rect x="125.8" y="349.5" width="693.0" height="519.5" fill="none" stroke="#000" stroke-width="3.25"/>
<path d="M472.5,349.5V869.0" fill="none" stroke="#000" stroke-width="3.05"/>
<g style="mix-blend-mode:multiply" text-rendering="geometricPrecision">
<path d="M432.58,12.10L432.03,12.08L431.25,12.05L430.36,12.05L429.50,12.14L428.67,12.33L427.82,12.59L426.98,12.92L426.21,13.33L425.52,13.84L424.87,14.44L424.27,15.10L423.75,15.80L423.29,16.56L422.90,17.37L422.57,18.22L422.31,19.09L422.11,19.99L421.98,20.92L421.91,21.86L421.90,22.80L421.96,23.72L422.08,24.65L422.27,25.57L422.52,26.50L422.84,27.45L423.22,28.43L423.67,29.36L424.16,30.20L424.71,30.94L425.31,31.60L425.96,32.18L426.62,32.67L427.32,33.07L428.06,33.39L428.80,33.60L429.50,33.70L430.15,33.67L430.78,33.51L431.39,33.26L431.96,32.96L432.53,32.57L433.07,32.10L433.57,31.59L434.02,31.11L434.41,30.63L434.76,30.13L435.05,29.69L435.25,29.38L435.25,29.38L435.45,29.69L435.74,30.13L436.09,30.63L436.48,31.11L436.93,31.59L437.45,32.10L437.99,32.57L438.54,32.96L439.07,33.26L439.61,33.50L440.18,33.65L440.80,33.70L441.48,33.64L442.21,33.49L442.95,33.24L443.67,32.88L444.38,32.40L445.08,31.81L445.75,31.14L446.34,30.41L446.85,29.61L447.29,28.74L447.67,27.82L447.98,26.91L448.23,26.01L448.42,25.10L448.54,24.17L448.60,23.21L448.59,22.19L448.52,21.13L448.39,20.07L448.19,19.09L447.93,18.19L447.60,17.35L447.21,16.55L446.75,15.80L446.23,15.10L445.63,14.44L444.98,13.84L444.29,13.33L443.52,12.92L442.68,12.59L441.83,12.33L441.00,12.14L440.14,12.05L439.25,12.05L438.47,12.08L437.92,12.10L437.92,12.22L438.21,12.46L438.62,12.80L439.09,13.18L439.56,13.54L440.03,13.85L440.53,14.14L441.03,14.47L441.49,14.90L441.93,15.43L442.34,16.05L442.73,16.73L443.05,17.45L443.33,18.21L443.55,19.02L443.73,19.87L443.88,20.74L443.99,21.64L444.07,22.57L444.10,23.51L444.08,24.44L444.00,25.39L443.86,26.36L443.68,27.29L443.47,28.15L443.22,28.93L442.93,29.65L442.60,30.29L442.23,30.82L441.81,31.24L441.35,31.55L440.86,31.76L440.38,31.85L439.91,31.81L439.43,31.66L438.97,31.39L438.54,31.03L438.13,30.52L437.75,29.89L437.40,29.21L437.10,28.56L436.83,27.94L436.58,27.32L436.41,26.71L436.36,26.09L436.48,25.48L436.75,24.88L437.05,24.27L437.30,23.62L437.51,22.92L437.70,22.19L437.85,21.46L437.92,20.74L437.90,20.03L437.82,19.33L437.68,18.66L437.51,18.07L437.30,17.56L437.05,17.11L436.77,16.73L436.48,16.42L436.19,16.16L435.88,15.97L435.56,15.85L435.25,15.80L434.94,15.84L434.62,15.96L434.31,16.15L434.02,16.42L433.73,16.78L433.44,17.23L433.18,17.74L432.99,18.27L432.87,18.84L432.79,19.44L432.77,20.08L432.79,20.74L432.85,21.44L432.97,22.18L433.11,22.92L433.28,23.62L433.51,24.27L433.79,24.88L434.03,25.48L434.14,26.09L434.09,26.71L433.92,27.32L433.67,27.94L433.40,28.56L433.10,29.21L432.75,29.89L432.37,30.52L431.96,31.03L431.53,31.39L431.07,31.66L430.59,31.81L430.12,31.85L429.64,31.76L429.17,31.55L428.70,31.24L428.27,30.82L427.86,30.29L427.47,29.65L427.12,28.93L426.83,28.15L426.60,27.29L426.42,26.36L426.29,25.39L426.21,24.44L426.19,23.51L426.23,22.57L426.30,21.64L426.42,20.74L426.56,19.87L426.74,19.02L426.96,18.20L427.24,17.45L427.58,16.75L427.98,16.10L428.42,15.51L428.88,14.98L429.38,14.54L429.91,14.19L430.44,13.87L430.94,13.54L431.42,13.17L431.89,12.79L432.29,12.46L432.58,12.22Z"/>
<text transform="matrix(0.42182 0 0 0.46316 459.800 33.537)" font-size="100" stroke="#000" stroke-width="1.2">/</text>
<path fill-rule="evenodd" d="M495.60,4.90L496.90,4.90L508.20,32.90L483.30,32.90ZM495.10,12.50L486.50,30.40L502.90,30.40Z"/>
<text transform="matrix(0.37460 0 0 0.34792 508.402 45.652)" font-size="100">s</text>
<text transform="matrix(0.35238 0 0 0.34792 524.790 45.652)" font-size="100">o</text>
<path d="M252.28,947.50L251.73,947.48L250.94,947.45L250.06,947.45L249.20,947.54L248.37,947.73L247.52,947.99L246.68,948.32L245.91,948.73L245.22,949.24L244.57,949.84L243.97,950.50L243.45,951.20L242.99,951.96L242.60,952.77L242.27,953.62L242.01,954.49L241.81,955.39L241.68,956.32L241.61,957.26L241.60,958.20L241.66,959.12L241.78,960.05L241.97,960.97L242.22,961.90L242.54,962.85L242.92,963.83L243.37,964.76L243.86,965.60L244.41,966.34L245.01,967.00L245.66,967.58L246.32,968.07L247.02,968.47L247.76,968.79L248.50,969.00L249.20,969.10L249.85,969.07L250.48,968.91L251.09,968.66L251.66,968.36L252.23,967.97L252.77,967.50L253.27,966.99L253.72,966.51L254.11,966.03L254.46,965.53L254.75,965.09L254.95,964.78L254.95,964.78L255.15,965.09L255.44,965.53L255.79,966.03L256.18,966.51L256.63,966.99L257.15,967.50L257.69,967.97L258.24,968.36L258.77,968.66L259.31,968.90L259.88,969.05L260.50,969.10L261.18,969.04L261.91,968.89L262.65,968.64L263.37,968.28L264.08,967.80L264.78,967.21L265.45,966.54L266.04,965.81L266.55,965.01L266.99,964.14L267.37,963.22L267.68,962.31L267.93,961.41L268.12,960.50L268.24,959.57L268.30,958.61L268.29,957.59L268.22,956.53L268.09,955.47L267.89,954.49L267.63,953.59L267.30,952.75L266.91,951.95L266.45,951.20L265.93,950.50L265.33,949.84L264.68,949.24L263.99,948.73L263.22,948.32L262.38,947.99L261.53,947.73L260.70,947.54L259.84,947.45L258.95,947.45L258.17,947.48L257.62,947.50L257.62,947.62L257.91,947.86L258.32,948.20L258.79,948.58L259.26,948.94L259.73,949.25L260.23,949.54L260.73,949.87L261.19,950.30L261.63,950.83L262.04,951.45L262.43,952.13L262.75,952.85L263.03,953.61L263.25,954.42L263.43,955.27L263.58,956.14L263.69,957.04L263.77,957.97L263.80,958.91L263.78,959.84L263.70,960.79L263.56,961.76L263.38,962.69L263.17,963.55L262.92,964.33L262.63,965.05L262.30,965.69L261.93,966.22L261.51,966.64L261.05,966.95L260.56,967.16L260.08,967.25L259.61,967.21L259.13,967.06L258.67,966.79L258.24,966.43L257.83,965.92L257.45,965.29L257.10,964.61L256.80,963.96L256.53,963.34L256.28,962.72L256.11,962.11L256.06,961.49L256.18,960.88L256.45,960.28L256.75,959.67L257.00,959.02L257.21,958.32L257.40,957.59L257.55,956.86L257.62,956.14L257.60,955.43L257.52,954.73L257.38,954.06L257.21,953.47L257.00,952.96L256.75,952.51L256.47,952.13L256.18,951.82L255.89,951.56L255.58,951.37L255.26,951.25L254.95,951.20L254.64,951.24L254.32,951.36L254.01,951.55L253.72,951.82L253.43,952.18L253.14,952.63L252.88,953.14L252.69,953.67L252.57,954.24L252.49,954.84L252.47,955.48L252.49,956.14L252.55,956.84L252.67,957.58L252.81,958.32L252.98,959.02L253.21,959.67L253.49,960.28L253.73,960.88L253.84,961.49L253.79,962.11L253.61,962.72L253.37,963.34L253.10,963.96L252.80,964.61L252.45,965.29L252.07,965.92L251.66,966.43L251.23,966.79L250.77,967.06L250.29,967.21L249.82,967.25L249.34,967.16L248.87,966.95L248.40,966.64L247.97,966.22L247.56,965.69L247.17,965.05L246.82,964.33L246.53,963.55L246.30,962.69L246.12,961.76L245.99,960.79L245.91,959.84L245.89,958.91L245.93,957.97L246.00,957.04L246.12,956.14L246.26,955.27L246.44,954.42L246.66,953.60L246.94,952.85L247.28,952.15L247.68,951.50L248.12,950.91L248.58,950.38L249.08,949.94L249.61,949.59L250.14,949.27L250.64,948.94L251.12,948.57L251.59,948.19L251.99,947.86L252.28,947.62Z"/>
<text transform="matrix(0.42182 0 0 0.46316 279.500 968.937)" font-size="100" stroke="#000" stroke-width="1.2">/</text>
<path fill-rule="evenodd" d="M315.30,940.30L316.60,940.30L327.90,968.30L303.00,968.30ZM314.80,947.90L306.20,965.80L322.60,965.80Z"/>
<text transform="matrix(0.37460 0 0 0.34792 328.102 981.052)" font-size="100">s</text>
<text transform="matrix(0.35238 0 0 0.34792 344.490 981.052)" font-size="100">o</text>
<path d="M597.58,947.50L597.03,947.48L596.25,947.45L595.36,947.45L594.50,947.54L593.67,947.73L592.82,947.99L591.98,948.32L591.21,948.73L590.52,949.24L589.87,949.84L589.27,950.50L588.75,951.20L588.29,951.96L587.90,952.77L587.57,953.62L587.31,954.49L587.11,955.39L586.98,956.32L586.91,957.26L586.90,958.20L586.96,959.12L587.08,960.05L587.27,960.97L587.52,961.90L587.84,962.85L588.22,963.83L588.67,964.76L589.16,965.60L589.71,966.34L590.31,967.00L590.96,967.58L591.62,968.07L592.32,968.47L593.06,968.79L593.80,969.00L594.50,969.10L595.15,969.07L595.78,968.91L596.39,968.66L596.96,968.36L597.53,967.97L598.07,967.50L598.57,966.99L599.02,966.51L599.41,966.03L599.76,965.53L600.05,965.09L600.25,964.78L600.25,964.78L600.45,965.09L600.74,965.53L601.09,966.03L601.48,966.51L601.93,966.99L602.45,967.50L602.99,967.97L603.54,968.36L604.07,968.66L604.61,968.90L605.18,969.05L605.80,969.10L606.48,969.04L607.21,968.89L607.95,968.64L608.67,968.28L609.38,967.80L610.08,967.21L610.75,966.54L611.34,965.81L611.85,965.01L612.29,964.14L612.67,963.22L612.98,962.31L613.23,961.41L613.42,960.50L613.54,959.57L613.60,958.61L613.59,957.59L613.52,956.53L613.39,955.47L613.19,954.49L612.93,953.59L612.60,952.75L612.21,951.95L611.75,951.20L611.23,950.50L610.63,949.84L609.98,949.24L609.29,948.73L608.52,948.32L607.68,947.99L606.83,947.73L606.00,947.54L605.14,947.45L604.25,947.45L603.47,947.48L602.92,947.50L602.92,947.62L603.21,947.86L603.62,948.20L604.09,948.58L604.56,948.94L605.03,949.25L605.53,949.54L606.03,949.87L606.49,950.30L606.93,950.83L607.34,951.45L607.73,952.13L608.05,952.85L608.33,953.61L608.55,954.42L608.73,955.27L608.88,956.14L608.99,957.04L609.07,957.97L609.10,958.91L609.08,959.84L609.00,960.79L608.86,961.76L608.68,962.69L608.47,963.55L608.22,964.33L607.93,965.05L607.60,965.69L607.23,966.22L606.81,966.64L606.35,966.95L605.86,967.16L605.38,967.25L604.91,967.21L604.43,967.06L603.97,966.79L603.54,966.43L603.13,965.92L602.75,965.29L602.40,964.61L602.10,963.96L601.83,963.34L601.58,962.72L601.41,962.11L601.36,961.49L601.48,960.88L601.75,960.28L602.05,959.67L602.30,959.02L602.51,958.32L602.70,957.59L602.85,956.86L602.92,956.14L602.90,955.43L602.82,954.73L602.68,954.06L602.51,953.47L602.30,952.96L602.05,952.51L601.77,952.13L601.48,951.82L601.19,951.56L600.88,951.37L600.56,951.25L600.25,951.20L599.94,951.24L599.62,951.36L599.31,951.55L599.02,951.82L598.73,952.18L598.44,952.63L598.18,953.14L597.99,953.67L597.87,954.24L597.79,954.84L597.77,955.48L597.79,956.14L597.85,956.84L597.97,957.58L598.11,958.32L598.28,959.02L598.51,959.67L598.79,960.28L599.03,960.88L599.14,961.49L599.09,962.11L598.91,962.72L598.67,963.34L598.40,963.96L598.10,964.61L597.75,965.29L597.37,965.92L596.96,966.43L596.53,966.79L596.07,967.06L595.59,967.21L595.12,967.25L594.64,967.16L594.17,966.95L593.70,966.64L593.27,966.22L592.86,965.69L592.47,965.05L592.12,964.33L591.83,963.55L591.60,962.69L591.42,961.76L591.29,960.79L591.21,959.84L591.19,958.91L591.23,957.97L591.30,957.04L591.42,956.14L591.56,955.27L591.74,954.42L591.96,953.60L592.24,952.85L592.58,952.15L592.98,951.50L593.42,950.91L593.88,950.38L594.38,949.94L594.91,949.59L595.44,949.27L595.94,948.94L596.42,948.57L596.89,948.19L597.29,947.86L597.58,947.62Z"/>
<text transform="matrix(0.42182 0 0 0.46316 624.800 968.937)" font-size="100" stroke="#000" stroke-width="1.2">/</text>
<path fill-rule="evenodd" d="M660.60,940.30L661.90,940.30L673.20,968.30L648.30,968.30ZM660.10,947.90L651.50,965.80L667.90,965.80Z"/>
<text transform="matrix(0.37460 0 0 0.34792 673.402 981.052)" font-size="100">s</text>
<text transform="matrix(0.35238 0 0 0.34792 689.790 981.052)" font-size="100">o</text>
<rect x="111.9" y="64.89999999999999" width="10.899999999999991" height="3.4"/>
<text transform="matrix(0.48500 0 0 0.43400 120.218 77.500)" font-size="100" stroke="#000" stroke-width="0.4">2</text>
<rect x="282.4" y="64.89999999999999" width="10.700000000000045" height="3.4"/>
<text transform="matrix(0.37143 0 0 0.43400 292.657 77.500)" font-size="100" stroke="#000" stroke-width="0.4">1</text>
<text transform="matrix(0.47381 0 0 0.43400 460.705 77.500)" font-size="100" stroke="#000" stroke-width="0.4">0</text>
<text transform="matrix(0.37429 0 0 0.43400 635.431 77.500)" font-size="100" stroke="#000" stroke-width="0.4">1</text>
<text transform="matrix(0.47500 0 0 0.43400 807.662 77.500)" font-size="100" stroke="#000" stroke-width="0.4">2</text>
<text transform="matrix(0.42386 0 0 0.43400 58.185 109.800)" font-size="100" stroke="#000" stroke-width="0.4">16</text>
<text transform="matrix(0.43275 0 0 0.43400 58.105 161.850)" font-size="100" stroke="#000" stroke-width="0.4">12</text>
<text transform="matrix(0.47500 0 0 0.43400 77.350 213.900)" font-size="100" stroke="#000" stroke-width="0.4">8</text>
<text transform="matrix(0.43871 0 0 0.43400 77.923 265.950)" font-size="100" stroke="#000" stroke-width="0.4">4</text>
<text transform="matrix(0.46429 0 0 0.43400 78.143 318.000)" font-size="100" stroke="#000" stroke-width="0.4">0</text>
<text transform="matrix(0.46905 0 0 0.43400 77.424 883.500)" font-size="100" stroke="#000" stroke-width="0.4">0</text>
<text transform="matrix(0.39429 0 0 0.43400 78.551 818.562)" font-size="100" stroke="#000" stroke-width="0.4">1</text>
<text transform="matrix(0.49250 0 0 0.43400 77.084 753.625)" font-size="100" stroke="#000" stroke-width="0.4">2</text>
<text transform="matrix(0.48049 0 0 0.43400 76.898 688.688)" font-size="100" stroke="#000" stroke-width="0.4">3</text>
<text transform="matrix(0.42366 0 0 0.43400 78.453 623.750)" font-size="100" stroke="#000" stroke-width="0.4">4</text>
<text transform="matrix(0.49250 0 0 0.43400 76.345 558.812)" font-size="100" stroke="#000" stroke-width="0.4">5</text>
<text transform="matrix(0.46353 0 0 0.43400 77.214 493.875)" font-size="100" stroke="#000" stroke-width="0.4">6</text>
<text transform="matrix(0.48642 0 0 0.43400 76.138 428.938)" font-size="100" stroke="#000" stroke-width="0.4">7</text>
<text transform="matrix(0.46905 0 0 0.43400 77.424 364.000)" font-size="100" stroke="#000" stroke-width="0.4">8</text>
<rect x="126.1" y="911.6999999999999" width="10.900000000000006" height="3.4"/>
<text transform="matrix(0.35429 0 0 0.43400 138.511 924.400)" font-size="100" stroke="#000" stroke-width="0.4">1</text>
<text transform="matrix(0.46429 0 0 0.43400 293.243 924.400)" font-size="100" stroke="#000" stroke-width="0.4">0</text>
<text transform="matrix(0.37143 0 0 0.43400 451.957 924.400)" font-size="100" stroke="#000" stroke-width="0.4">1</text>
<rect x="497.0" y="911.6999999999999" width="10.899999999999977" height="3.4"/>
<text transform="matrix(0.36286 0 0 0.43400 509.034 924.400)" font-size="100" stroke="#000" stroke-width="0.4">1</text>
<text transform="matrix(0.47857 0 0 0.43400 638.786 924.400)" font-size="100" stroke="#000" stroke-width="0.4">0</text>
<text transform="matrix(0.37429 0 0 0.43400 773.431 924.400)" font-size="100" stroke="#000" stroke-width="0.4">1</text>
<text transform="matrix(0 -0.44776 0.45538 0 31.200 250.343)" font-size="100" stroke="#000" stroke-width="0.4">N</text>
<text transform="matrix(0 -0.36863 0.38444 0 28.027 214.359)" font-size="100" stroke="#000" stroke-width="1.6">(</text>
<path d="M8.90,189.68L8.88,190.22L8.84,191.00L8.85,191.87L8.94,192.71L9.14,193.53L9.41,194.37L9.76,195.19L10.20,195.95L10.73,196.64L11.36,197.28L12.05,197.86L12.79,198.38L13.59,198.83L14.44,199.21L15.34,199.54L16.25,199.80L17.19,199.99L18.17,200.12L19.16,200.19L20.14,200.20L21.11,200.14L22.09,200.02L23.06,199.84L24.03,199.59L25.04,199.28L26.06,198.90L27.04,198.46L27.92,197.97L28.70,197.43L29.40,196.84L30.01,196.20L30.52,195.55L30.94,194.86L31.27,194.13L31.50,193.40L31.60,192.71L31.56,192.07L31.40,191.45L31.14,190.86L30.82,190.29L30.41,189.73L29.91,189.20L29.38,188.70L28.88,188.26L28.37,187.88L27.85,187.53L27.38,187.25L27.06,187.05L27.06,187.05L27.38,186.85L27.85,186.57L28.37,186.22L28.88,185.84L29.38,185.39L29.91,184.89L30.41,184.35L30.82,183.81L31.14,183.29L31.39,182.75L31.55,182.19L31.60,181.59L31.54,180.92L31.38,180.20L31.11,179.46L30.74,178.76L30.23,178.06L29.61,177.36L28.91,176.71L28.14,176.13L27.30,175.63L26.38,175.19L25.43,174.82L24.47,174.51L23.52,174.26L22.56,174.08L21.58,173.96L20.57,173.90L19.50,173.91L18.39,173.98L17.28,174.11L16.25,174.30L15.30,174.56L14.41,174.89L13.58,175.27L12.79,175.72L12.05,176.24L11.36,176.82L10.73,177.46L10.20,178.15L9.76,178.91L9.41,179.73L9.14,180.57L8.94,181.39L8.85,182.23L8.84,183.10L8.88,183.88L8.90,184.42L9.03,184.42L9.28,184.14L9.63,183.73L10.03,183.26L10.41,182.80L10.74,182.34L11.05,181.85L11.39,181.36L11.84,180.90L12.40,180.47L13.05,180.06L13.77,179.69L14.52,179.36L15.32,179.09L16.17,178.87L17.07,178.70L17.98,178.55L18.92,178.44L19.90,178.36L20.89,178.33L21.87,178.35L22.87,178.43L23.88,178.57L24.87,178.74L25.76,178.96L26.58,179.20L27.34,179.49L28.02,179.81L28.57,180.17L29.01,180.58L29.34,181.04L29.56,181.52L29.65,181.99L29.62,182.46L29.45,182.93L29.17,183.39L28.79,183.81L28.26,184.21L27.60,184.59L26.88,184.93L26.20,185.23L25.55,185.50L24.90,185.74L24.25,185.91L23.60,185.96L22.96,185.83L22.33,185.58L21.69,185.28L21.01,185.03L20.28,184.83L19.51,184.64L18.73,184.49L17.98,184.42L17.24,184.44L16.49,184.52L15.79,184.66L15.17,184.82L14.64,185.03L14.17,185.28L13.77,185.55L13.44,185.84L13.17,186.13L12.97,186.43L12.84,186.74L12.79,187.05L12.83,187.36L12.95,187.67L13.16,187.97L13.44,188.26L13.82,188.55L14.29,188.83L14.82,189.08L15.39,189.28L15.98,189.40L16.62,189.47L17.29,189.49L17.98,189.48L18.72,189.41L19.49,189.30L20.27,189.16L21.01,188.99L21.69,188.77L22.33,188.49L22.96,188.25L23.60,188.14L24.25,188.20L24.90,188.37L25.55,188.60L26.20,188.87L26.88,189.17L27.60,189.51L28.26,189.89L28.79,190.29L29.17,190.71L29.45,191.17L29.62,191.64L29.65,192.11L29.56,192.57L29.34,193.04L29.01,193.50L28.57,193.93L28.02,194.33L27.34,194.71L26.58,195.06L25.76,195.34L24.87,195.57L23.88,195.75L22.87,195.88L21.87,195.95L20.89,195.97L19.90,195.94L18.92,195.86L17.98,195.75L17.06,195.61L16.17,195.43L15.31,195.21L14.52,194.94L13.79,194.60L13.10,194.21L12.48,193.77L11.93,193.32L11.47,192.83L11.09,192.31L10.76,191.79L10.41,191.30L10.03,190.83L9.63,190.36L9.28,189.96L9.03,189.68Z"/>
<text transform="matrix(0 -0.36154 0.38444 0 28.027 172.785)" font-size="100" stroke="#000" stroke-width="1.6">)</text>
<text transform="matrix(0 -0.44776 0.45538 0 31.200 663.343)" font-size="100" stroke="#000" stroke-width="0.4">N</text>
<text transform="matrix(0 -0.36863 0.38444 0 28.027 627.359)" font-size="100" stroke="#000" stroke-width="1.6">(</text>
<path d="M8.90,602.68L8.88,603.22L8.84,604.00L8.85,604.87L8.94,605.71L9.14,606.53L9.41,607.37L9.76,608.19L10.20,608.95L10.73,609.64L11.36,610.28L12.05,610.86L12.79,611.38L13.59,611.83L14.44,612.21L15.34,612.54L16.25,612.80L17.19,612.99L18.17,613.12L19.16,613.19L20.14,613.20L21.11,613.14L22.09,613.02L23.06,612.84L24.03,612.59L25.04,612.28L26.06,611.90L27.04,611.46L27.92,610.97L28.70,610.43L29.40,609.84L30.01,609.20L30.52,608.55L30.94,607.86L31.27,607.13L31.50,606.40L31.60,605.71L31.56,605.07L31.40,604.45L31.14,603.86L30.82,603.29L30.41,602.73L29.91,602.20L29.38,601.70L28.88,601.26L28.37,600.88L27.85,600.53L27.38,600.25L27.06,600.05L27.06,600.05L27.38,599.85L27.85,599.57L28.37,599.22L28.88,598.84L29.38,598.39L29.91,597.89L30.41,597.35L30.82,596.81L31.14,596.29L31.39,595.75L31.55,595.19L31.60,594.59L31.54,593.92L31.38,593.20L31.11,592.46L30.74,591.76L30.23,591.06L29.61,590.36L28.91,589.71L28.14,589.13L27.30,588.63L26.38,588.19L25.43,587.82L24.47,587.51L23.52,587.26L22.56,587.08L21.58,586.96L20.57,586.90L19.50,586.91L18.39,586.98L17.28,587.11L16.25,587.30L15.30,587.56L14.41,587.89L13.58,588.27L12.79,588.72L12.05,589.24L11.36,589.82L10.73,590.46L10.20,591.15L9.76,591.91L9.41,592.73L9.14,593.57L8.94,594.39L8.85,595.23L8.84,596.11L8.88,596.88L8.90,597.42L9.03,597.42L9.28,597.14L9.63,596.73L10.03,596.26L10.41,595.80L10.74,595.34L11.05,594.85L11.39,594.36L11.84,593.90L12.40,593.47L13.05,593.06L13.77,592.69L14.52,592.36L15.32,592.09L16.17,591.87L17.07,591.70L17.98,591.55L18.92,591.44L19.90,591.36L20.89,591.33L21.87,591.35L22.87,591.43L23.88,591.57L24.87,591.74L25.76,591.96L26.58,592.20L27.34,592.49L28.02,592.81L28.57,593.17L29.01,593.58L29.34,594.04L29.56,594.52L29.65,594.99L29.62,595.46L29.45,595.93L29.17,596.39L28.79,596.81L28.26,597.21L27.60,597.59L26.88,597.93L26.20,598.23L25.55,598.50L24.90,598.74L24.25,598.91L23.60,598.96L22.96,598.83L22.33,598.58L21.69,598.28L21.01,598.03L20.28,597.83L19.51,597.64L18.73,597.49L17.98,597.42L17.24,597.44L16.49,597.52L15.79,597.66L15.17,597.82L14.64,598.03L14.17,598.28L13.77,598.55L13.44,598.84L13.17,599.13L12.97,599.43L12.84,599.74L12.79,600.05L12.83,600.36L12.95,600.67L13.16,600.97L13.44,601.26L13.82,601.55L14.29,601.83L14.82,602.08L15.39,602.28L15.98,602.40L16.62,602.47L17.29,602.49L17.98,602.48L18.72,602.41L19.49,602.30L20.27,602.16L21.01,601.99L21.69,601.77L22.33,601.49L22.96,601.25L23.60,601.14L24.25,601.20L24.90,601.37L25.55,601.60L26.20,601.87L26.88,602.17L27.60,602.51L28.26,602.89L28.79,603.29L29.17,603.71L29.45,604.17L29.62,604.64L29.65,605.11L29.56,605.57L29.34,606.04L29.01,606.50L28.57,606.93L28.02,607.33L27.34,607.71L26.58,608.06L25.76,608.34L24.87,608.57L23.88,608.75L22.87,608.88L21.87,608.95L20.89,608.97L19.90,608.94L18.92,608.86L17.98,608.75L17.06,608.61L16.17,608.43L15.31,608.21L14.52,607.94L13.79,607.60L13.10,607.21L12.48,606.77L11.93,606.32L11.47,605.83L11.09,605.31L10.76,604.79L10.41,604.30L10.03,603.83L9.63,603.36L9.28,602.96L9.03,602.68Z"/>
<text transform="matrix(0 -0.36154 0.38444 0 28.027 585.785)" font-size="100" stroke="#000" stroke-width="1.6">)</text>
<text transform="matrix(0.39213 0 0 0.43538 452.716 163.000)" font-size="100" stroke="#000" stroke-width="0.4">TI</text>
<text transform="matrix(0.33483 0 0 0.37692 148.130 393.300)" font-size="100" stroke="#000" stroke-width="0.4">TI</text>
<text transform="matrix(0.32193 0 0 0.36947 765.434 396.900)" font-size="100" stroke="#000" stroke-width="0.4">BI</text>
<text transform="matrix(0.37647 0 0 0.45846 173.771 446.100)" font-size="100">K</text>
<text transform="matrix(0.37647 0 0 0.45846 249.871 446.100)" font-size="100">K</text>
<text transform="matrix(0.48889 0 0 0.49787 277.700 447.611)" font-size="100">'</text>
<text transform="matrix(0.37647 0 0 0.45846 322.771 446.100)" font-size="100">K</text>
<text transform="matrix(0.37647 0 0 0.45846 379.471 446.100)" font-size="100">K</text>
<text transform="matrix(0.48889 0 0 0.49787 407.300 447.611)" font-size="100">'</text>
<text transform="matrix(0.37647 0 0 0.45846 507.071 458.500)" font-size="100">K</text>
<text transform="matrix(0.37647 0 0 0.45846 576.471 458.500)" font-size="100">K</text>
<text transform="matrix(0.37647 0 0 0.45846 668.571 458.500)" font-size="100">K</text>
<text transform="matrix(0.48889 0 0 0.49787 696.400 460.011)" font-size="100">'</text>
<text transform="matrix(0.37647 0 0 0.45846 734.871 458.500)" font-size="100">K</text>
<text transform="matrix(0.48889 0 0 0.49787 762.700 460.011)" font-size="100">'</text>
<path d="M208.60,429.70V454.10M201.70,447.40L208.60,454.30L215.50,447.40M296.40,429.70V454.10M289.50,447.40L296.40,454.30L303.30,447.40M357.60,430.30V454.30M350.70,437.00L357.60,430.10L364.50,437.00M426.00,430.30V454.30M419.10,437.00L426.00,430.10L432.90,437.00M541.90,442.10V466.50M535.00,459.80L541.90,466.70L548.80,459.80M611.30,442.70V466.70M604.40,449.40L611.30,442.50L618.20,449.40M715.10,442.10V466.50M708.20,459.80L715.10,466.70L722.00,459.80M781.40,442.70V466.70M774.50,449.40L781.40,442.50L788.30,449.40" fill="none" stroke="#000" stroke-width="1.7" stroke-linejoin="miter"/>
<path d="M463.5,994.6V960" stroke="#0000ff" stroke-width="4.4" fill="none"/>
<path d="M463.4,933.2L473.1,969.8L463.4,962.4L453.8,969.8Z" fill="#0000ff"/>
<path d="M488.9,938V972" stroke="#ff0000" stroke-width="4.4" fill="none"/>
<path d="M488.8,999.2L479.2,962.6L488.8,970L498.4,962.6Z" fill="#ff0000"/>
<path d="M453.80,969.80L454.46,967.29L455.86,968.21Z" fill="#000"/>
<path d="M473.10,969.80L472.43,967.29L471.03,968.22Z" fill="#000"/>
<path d="M479.20,962.60L479.86,965.11L481.26,964.19Z" fill="#000"/>
<path d="M498.40,962.60L497.74,965.11L496.34,964.19Z" fill="#000"/>
</g>
</svg>
</body></html>
